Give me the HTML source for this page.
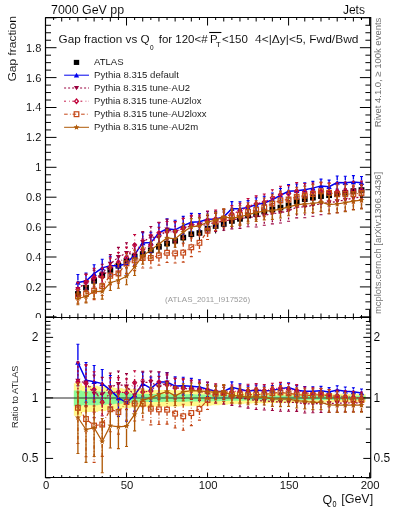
<!DOCTYPE html>
<html><head><meta charset="utf-8"><style>html,body{margin:0;padding:0;background:#fff;width:393px;height:512px;overflow:hidden}svg{display:block;will-change:transform} text{stroke:#fff;stroke-width:0.07px}</style></head>
<body><svg width="393" height="512" viewBox="0 0 393 512">
<rect width="393" height="512" fill="#fff"/>
<defs><clipPath id="ct"><rect x="45.5" y="17.5" width="325.4" height="300"/></clipPath><clipPath id="cb"><rect x="45.5" y="317.5" width="325.4" height="160"/></clipPath></defs>
<text x="51.1" y="13.8" font-size="12" font-family="'Liberation Sans', sans-serif" textLength="73" lengthAdjust="spacingAndGlyphs">7000 GeV pp</text>
<text x="364.9" y="13.8" font-size="12" font-family="'Liberation Sans', sans-serif" text-anchor="end">Jets</text>
<text transform="translate(15.6 81.6) rotate(-90)" font-size="11" font-family="'Liberation Sans', sans-serif" textLength="65.5" lengthAdjust="spacingAndGlyphs">Gap fraction</text>
<text x="41.3" y="290.8" font-size="11.1" font-family="'Liberation Sans', sans-serif" text-anchor="end">0.2</text>
<text x="41.3" y="260.9" font-size="11.1" font-family="'Liberation Sans', sans-serif" text-anchor="end">0.4</text>
<text x="41.3" y="231" font-size="11.1" font-family="'Liberation Sans', sans-serif" text-anchor="end">0.6</text>
<text x="41.3" y="201.1" font-size="11.1" font-family="'Liberation Sans', sans-serif" text-anchor="end">0.8</text>
<text x="41.3" y="171.2" font-size="11.1" font-family="'Liberation Sans', sans-serif" text-anchor="end">1</text>
<text x="41.3" y="141.3" font-size="11.1" font-family="'Liberation Sans', sans-serif" text-anchor="end">1.2</text>
<text x="41.3" y="111.4" font-size="11.1" font-family="'Liberation Sans', sans-serif" text-anchor="end">1.4</text>
<text x="41.3" y="81.5" font-size="11.1" font-family="'Liberation Sans', sans-serif" text-anchor="end">1.6</text>
<text x="41.3" y="51.6" font-size="11.1" font-family="'Liberation Sans', sans-serif" text-anchor="end">1.8</text>
<text x="58.6" y="43" font-size="11.5" font-family="'Liberation Sans', sans-serif" textLength="91" lengthAdjust="spacingAndGlyphs">Gap fraction vs Q</text>
<text x="150" y="49.7" font-size="7.8" font-family="'Liberation Sans', sans-serif" style="stroke:none" textLength="3.6" lengthAdjust="spacingAndGlyphs">0</text>
<text x="158.7" y="43" font-size="11.5" font-family="'Liberation Sans', sans-serif">for 120&lt;#</text>
<text x="210" y="43" font-size="11.5" font-family="'Liberation Sans', sans-serif">P</text>
<path d="M209.2 32.5H221.4" stroke="#000" stroke-width="1.1"/>
<text x="216.1" y="47" font-size="7.6" font-family="'Liberation Sans', sans-serif" style="stroke:none">T</text>
<text x="222" y="43" font-size="11.5" font-family="'Liberation Sans', sans-serif">&lt;150</text>
<text x="255" y="43" font-size="11.5" font-family="'Liberation Sans', sans-serif" textLength="103.5" lengthAdjust="spacingAndGlyphs">4&lt;|Δy|&lt;5, Fwd/Bwd</text>
<text transform="translate(380.6 127.2) rotate(-90)" font-size="9.4" font-family="'Liberation Sans', sans-serif" fill="#707070" style="stroke:none" textLength="109.5" lengthAdjust="spacingAndGlyphs">Rivet 4.1.0, ≥ 100k events</text>
<text transform="translate(381.2 314) rotate(-90)" font-size="9.4" font-family="'Liberation Sans', sans-serif" fill="#707070" style="stroke:none" textLength="142" lengthAdjust="spacingAndGlyphs">mcplots.cern.ch [arXiv:1306.3436]</text>
<text x="165.1" y="302.4" font-size="7.6" font-family="'Liberation Sans', sans-serif" fill="#9a9a9a" style="stroke:none" textLength="85" lengthAdjust="spacingAndGlyphs">(ATLAS_2011_I917526)</text>
<text x="41.3" y="320.7" font-size="11.1" font-family="'Liberation Sans', sans-serif" text-anchor="end">0</text>
<text x="94.1" y="65" font-size="9.3" font-family="'Liberation Sans', sans-serif" textLength="29.5" lengthAdjust="spacingAndGlyphs">ATLAS</text>
<text x="94.1" y="77.8" font-size="9.3" font-family="'Liberation Sans', sans-serif" textLength="84.8" lengthAdjust="spacingAndGlyphs">Pythia 8.315 default</text>
<text x="94.1" y="90.6" font-size="9.3" font-family="'Liberation Sans', sans-serif" textLength="96" lengthAdjust="spacingAndGlyphs">Pythia 8.315 tune-AU2</text>
<text x="94.1" y="103.8" font-size="9.3" font-family="'Liberation Sans', sans-serif" textLength="107.3" lengthAdjust="spacingAndGlyphs">Pythia 8.315 tune-AU2lox</text>
<text x="94.1" y="116.8" font-size="9.3" font-family="'Liberation Sans', sans-serif" textLength="112.5" lengthAdjust="spacingAndGlyphs">Pythia 8.315 tune-AU2loxx</text>
<text x="94.1" y="129.9" font-size="9.3" font-family="'Liberation Sans', sans-serif" textLength="104" lengthAdjust="spacingAndGlyphs">Pythia 8.315 tune-AU2m</text>
<rect x="73.8" y="59.85" width="5.4" height="5.1" fill="#000"/>
<path d="M64.1 75.2H89.0" stroke="#0000ee" stroke-width="1" fill="none"/>
<path d="M76.5 72.7L79.2 77.5L73.8 77.5Z" fill="#0000ee"/>
<path d="M64.1 88.0H89.0" stroke="#9a003e" stroke-width="1" fill="none" stroke-dasharray="2,2"/>
<path d="M76.5 90.3L79.1 85.9L73.9 85.9Z" fill="#9a003e"/>
<path d="M64.1 101.2H89.0" stroke="#c0063c" stroke-width="1" fill="none" stroke-dasharray="1.8,3.3,0.7,2.4"/>
<path d="M76.5 99L78.4 101.2L76.5 103.4L74.6 101.2Z" fill="none" stroke="#c0063c" stroke-width="1.3"/>
<path d="M64.1 114.2H89.0" stroke="#c44616" stroke-width="1" fill="none" stroke-dasharray="3.6,2.2,0.8,1.9"/>
<rect x="74.2" y="111.8" width="4.6" height="4.8" fill="none" stroke="#c44616" stroke-width="1.2"/>
<path d="M64.1 127.3H89.0" stroke="#b05a08" stroke-width="1" fill="none"/>
<path d="M76.5 124.2L77.29 126.21L79.45 126.34L77.78 127.72L78.32 129.81L76.5 128.65L74.68 129.81L75.22 127.72L73.55 126.34L75.71 126.21Z" fill="#b05a08"/>
<g clip-path="url(#ct)">
<path d="M77.91 289.72V298.14M86.01 283.27V292.02M94.12 275.54V286.3M102.22 269.42V281.06M110.32 263.92V276.09M118.42 259.7V271.94M126.53 254.48V267M134.63 250.33V262.78M142.73 247.79V260.23M150.83 243.78V256.76M158.94 240.11V253.56M167.04 236.62V250.47M175.14 233.79V247.92M183.24 230.31V244.82M191.34 226.68V241.57M199.45 225.51V240.35M207.55 220.92V236.27M215.65 218.63V233.48M223.75 216.85V231.07M231.86 214.13V227.81M239.96 212.39V225.36M248.06 209.41V221.77M256.17 208.01V220.18M264.27 205.42V217.69M272.37 203.3V215.62M280.47 201.35V213.68M288.58 199.24V211.6M296.68 195.09V207.68M304.78 192.84V205.45M312.88 191.37V203.92M320.99 189.91V202.39M329.09 189.09V201.43M337.19 188.1V200.32M345.29 186.65V198.78M353.39 185.04V197.1M361.5 184.07V195.98" stroke="#000" stroke-width="1"/>
<rect x="75.01" y="291.13" width="5.8" height="5.6" fill="#000"/><rect x="83.11" y="284.85" width="5.8" height="5.6" fill="#000"/><rect x="91.22" y="278.12" width="5.8" height="5.6" fill="#000"/><rect x="99.32" y="272.44" width="5.8" height="5.6" fill="#000"/><rect x="107.42" y="267.21" width="5.8" height="5.6" fill="#000"/><rect x="115.52" y="263.02" width="5.8" height="5.6" fill="#000"/><rect x="123.62" y="257.94" width="5.8" height="5.6" fill="#000"/><rect x="131.73" y="253.75" width="5.8" height="5.6" fill="#000"/><rect x="139.83" y="251.21" width="5.8" height="5.6" fill="#000"/><rect x="147.93" y="247.47" width="5.8" height="5.6" fill="#000"/><rect x="156.03" y="244.03" width="5.8" height="5.6" fill="#000"/><rect x="164.14" y="240.75" width="5.8" height="5.6" fill="#000"/><rect x="172.24" y="238.05" width="5.8" height="5.6" fill="#000"/><rect x="180.34" y="234.76" width="5.8" height="5.6" fill="#000"/><rect x="188.44" y="231.33" width="5.8" height="5.6" fill="#000"/><rect x="196.55" y="230.13" width="5.8" height="5.6" fill="#000"/><rect x="204.65" y="225.8" width="5.8" height="5.6" fill="#000"/><rect x="212.75" y="223.25" width="5.8" height="5.6" fill="#000"/><rect x="220.85" y="221.16" width="5.8" height="5.6" fill="#000"/><rect x="228.96" y="218.17" width="5.8" height="5.6" fill="#000"/><rect x="237.06" y="216.08" width="5.8" height="5.6" fill="#000"/><rect x="245.16" y="212.79" width="5.8" height="5.6" fill="#000"/><rect x="253.27" y="211.29" width="5.8" height="5.6" fill="#000"/><rect x="261.37" y="208.75" width="5.8" height="5.6" fill="#000"/><rect x="269.47" y="206.66" width="5.8" height="5.6" fill="#000"/><rect x="277.57" y="204.72" width="5.8" height="5.6" fill="#000"/><rect x="285.68" y="202.62" width="5.8" height="5.6" fill="#000"/><rect x="293.78" y="198.59" width="5.8" height="5.6" fill="#000"/><rect x="301.88" y="196.34" width="5.8" height="5.6" fill="#000"/><rect x="309.98" y="194.85" width="5.8" height="5.6" fill="#000"/><rect x="318.09" y="193.35" width="5.8" height="5.6" fill="#000"/><rect x="326.19" y="192.46" width="5.8" height="5.6" fill="#000"/><rect x="334.29" y="191.41" width="5.8" height="5.6" fill="#000"/><rect x="342.39" y="189.92" width="5.8" height="5.6" fill="#000"/><rect x="350.5" y="188.27" width="5.8" height="5.6" fill="#000"/><rect x="358.6" y="187.22" width="5.8" height="5.6" fill="#000"/>
<path d="M77.91 274.48V279.89M77.91 285.09V290.5M86.01 273.07V278.46M86.01 283.66V289.05M94.12 264.77V271.04M94.12 276.24V282.5M102.22 259.24V265.24M102.22 270.44V276.44M110.32 256.3V263.05M110.32 268.25V275.01M118.42 256.08V263.22M118.42 268.42V275.56M126.53 253.51V261.11M126.53 266.31V273.91M134.63 244.14V251.96M134.63 257.16V264.99M142.73 232.6V240.3M142.73 245.5V253.19M150.83 232.31V240.02M150.83 245.22V252.93M158.94 222.63V230.24M158.94 235.44V243.06M167.04 218.89V226.29M167.04 231.49V238.9M175.14 220.19V227.24M175.14 232.44V239.5M183.24 216.35V223.08M183.24 228.28V235.01M191.34 213.35V219.7M191.34 224.9V231.26M199.45 213.48V219.18M199.45 224.38V230.07M207.55 211.45V216.73M207.55 221.93V227.22M215.65 211.62V216.28M215.65 221.48V226.14M223.75 209.76V214.3M223.75 219.5V224.05M231.86 201.61V206.1M231.86 211.3V215.8M239.96 201.74V206.09M239.96 211.29V215.65M248.06 200.61V204.89M248.06 210.09V214.37M256.17 197.76V201.84M256.17 207.04V211.12M264.27 196.2V200.32M264.27 205.52V209.64M272.37 193.07V197.2M272.37 202.4V206.53M280.47 188.55V192.68M280.47 197.88V202M288.58 184.55V188.68M288.58 193.88V198M296.68 183.93V188.17M296.68 193.37V197.6M304.78 182.9V187.13M304.78 192.33V196.56M312.88 181.33V185.52M312.88 190.72V194.9M320.99 179.17V183.3M320.99 188.5V192.63M329.09 180.11V184.15M329.09 189.35V193.39M337.19 176.01V179.96M337.19 185.16V189.12M345.29 176.3V180.19M345.29 185.39V189.28M353.39 175.59V179.42M353.39 184.62V188.45M361.5 176.46V180.2M361.5 185.4V189.14" stroke="#0000ee" stroke-width="1.35" fill="none"/>
<path d="M76.41 274.48H79.41M76.41 290.5H79.41M84.51 273.07H87.51M84.51 289.05H87.51M92.62 264.77H95.62M92.62 282.5H95.62M100.72 259.24H103.72M100.72 276.44H103.72M108.82 256.3H111.82M108.82 275.01H111.82M116.92 256.08H119.92M116.92 275.56H119.92M125.03 253.51H128.03M125.03 273.91H128.03M133.13 244.14H136.13M133.13 264.99H136.13M141.23 232.6H144.23M141.23 253.19H144.23M149.33 232.31H152.33M149.33 252.93H152.33M157.44 222.63H160.44M157.44 243.06H160.44M165.54 218.89H168.54M165.54 238.9H168.54M173.64 220.19H176.64M173.64 239.5H176.64M181.74 216.35H184.74M181.74 235.01H184.74M189.84 213.35H192.84M189.84 231.26H192.84M197.95 213.48H200.95M197.95 230.07H200.95M206.05 211.45H209.05M206.05 227.22H209.05M214.15 211.62H217.15M214.15 226.14H217.15M222.25 209.76H225.25M222.25 224.05H225.25M230.36 201.61H233.36M230.36 215.8H233.36M238.46 201.74H241.46M238.46 215.65H241.46M246.56 200.61H249.56M246.56 214.37H249.56M254.67 197.76H257.67M254.67 211.12H257.67M262.77 196.2H265.77M262.77 209.64H265.77M270.87 193.07H273.87M270.87 206.53H273.87M278.97 188.55H281.97M278.97 202H281.97M287.08 184.55H290.08M287.08 198H290.08M295.18 183.93H298.18M295.18 197.6H298.18M303.28 182.9H306.28M303.28 196.56H306.28M311.38 181.33H314.38M311.38 194.9H314.38M319.49 179.17H322.49M319.49 192.63H322.49M327.59 180.11H330.59M327.59 193.39H330.59M335.69 176.01H338.69M335.69 189.12H338.69M343.79 176.3H346.79M343.79 189.28H346.79M351.89 175.59H354.89M351.89 188.45H354.89M360 176.46H363M360 189.14H363" stroke="#0000ee" stroke-width="1.1" fill="none"/>
<path d="M77.91 282.49L86.01 281.06L94.12 273.64L102.22 267.84L110.32 265.65L118.42 265.82L126.53 263.71L134.63 254.56L142.73 242.9L150.83 242.62L158.94 232.84L167.04 228.89L175.14 229.84L183.24 225.68L191.34 222.3L199.45 221.78L207.55 219.33L215.65 218.88L223.75 216.9L231.86 208.7L239.96 208.69L248.06 207.49L256.17 204.44L264.27 202.92L272.37 199.8L280.47 195.28L288.58 191.28L296.68 190.77L304.78 189.73L312.88 188.12L320.99 185.9L329.09 186.75L337.19 182.56L345.29 182.79L353.39 182.02L361.5 182.8" stroke="#0000ee" stroke-width="1.5" fill="none"/>
<path d="M77.91 279.99L80.61 284.79L75.21 284.79Z" fill="#0000ee"/><path d="M86.01 278.56L88.71 283.36L83.31 283.36Z" fill="#0000ee"/><path d="M94.12 271.14L96.82 275.94L91.42 275.94Z" fill="#0000ee"/><path d="M102.22 265.34L104.92 270.14L99.52 270.14Z" fill="#0000ee"/><path d="M110.32 263.15L113.02 267.95L107.62 267.95Z" fill="#0000ee"/><path d="M118.42 263.32L121.12 268.12L115.72 268.12Z" fill="#0000ee"/><path d="M126.53 261.21L129.22 266.01L123.83 266.01Z" fill="#0000ee"/><path d="M134.63 252.06L137.33 256.86L131.93 256.86Z" fill="#0000ee"/><path d="M142.73 240.4L145.43 245.2L140.03 245.2Z" fill="#0000ee"/><path d="M150.83 240.12L153.53 244.92L148.13 244.92Z" fill="#0000ee"/><path d="M158.94 230.34L161.63 235.14L156.24 235.14Z" fill="#0000ee"/><path d="M167.04 226.39L169.74 231.19L164.34 231.19Z" fill="#0000ee"/><path d="M175.14 227.34L177.84 232.14L172.44 232.14Z" fill="#0000ee"/><path d="M183.24 223.18L185.94 227.98L180.54 227.98Z" fill="#0000ee"/><path d="M191.34 219.8L194.04 224.6L188.65 224.6Z" fill="#0000ee"/><path d="M199.45 219.28L202.15 224.08L196.75 224.08Z" fill="#0000ee"/><path d="M207.55 216.83L210.25 221.63L204.85 221.63Z" fill="#0000ee"/><path d="M215.65 216.38L218.35 221.18L212.95 221.18Z" fill="#0000ee"/><path d="M223.75 214.4L226.45 219.2L221.06 219.2Z" fill="#0000ee"/><path d="M231.86 206.2L234.56 211L229.16 211Z" fill="#0000ee"/><path d="M239.96 206.19L242.66 210.99L237.26 210.99Z" fill="#0000ee"/><path d="M248.06 204.99L250.76 209.79L245.36 209.79Z" fill="#0000ee"/><path d="M256.17 201.94L258.87 206.74L253.47 206.74Z" fill="#0000ee"/><path d="M264.27 200.42L266.97 205.22L261.57 205.22Z" fill="#0000ee"/><path d="M272.37 197.3L275.07 202.1L269.67 202.1Z" fill="#0000ee"/><path d="M280.47 192.78L283.17 197.58L277.77 197.58Z" fill="#0000ee"/><path d="M288.58 188.78L291.28 193.58L285.88 193.58Z" fill="#0000ee"/><path d="M296.68 188.27L299.38 193.07L293.98 193.07Z" fill="#0000ee"/><path d="M304.78 187.23L307.48 192.03L302.08 192.03Z" fill="#0000ee"/><path d="M312.88 185.62L315.58 190.42L310.18 190.42Z" fill="#0000ee"/><path d="M320.99 183.4L323.69 188.2L318.29 188.2Z" fill="#0000ee"/><path d="M329.09 184.25L331.79 189.05L326.39 189.05Z" fill="#0000ee"/><path d="M337.19 180.06L339.89 184.86L334.49 184.86Z" fill="#0000ee"/><path d="M345.29 180.29L347.99 185.09L342.59 185.09Z" fill="#0000ee"/><path d="M353.39 179.52L356.09 184.32L350.69 184.32Z" fill="#0000ee"/><path d="M361.5 180.3L364.2 185.1L358.8 185.1Z" fill="#0000ee"/>
<path d="M77.91 282.17V286.43M77.91 291.63V295.89M86.01 274.09V279.51M86.01 284.71V290.13M94.12 270.23V276.6M94.12 281.8V288.17M102.22 264.23V270.98M102.22 276.18V282.93M110.32 254.56V261.32M110.32 266.52V273.28M118.42 247.38V254.55M118.42 259.75V266.93M126.53 242.72V250.4M126.53 255.6V263.28M134.63 244.32V252.26M134.63 257.46V265.41M142.73 231.61V239.48M142.73 244.68V252.54M150.83 226.43V234.37M150.83 239.57V247.5M158.94 227.24V235.14M158.94 240.34V248.23M167.04 219.25V227.03M167.04 232.23V240M175.14 221.61V229.14M175.14 234.34V241.87M183.24 218.15V225.46M183.24 230.66V237.96M191.34 216.21V223.26M191.34 228.46V235.5M199.45 217.14V223.62M199.45 228.82V235.31M207.55 215.36V221.58M207.55 226.78V233.01M215.65 213.42V219.82M215.65 225.02V231.42M223.75 212.05V218.58M223.75 223.78V230.3M231.86 210.19V216.93M231.86 222.13V228.88M239.96 209.41V216.28M239.96 221.48V228.34M248.06 207.41V214.51M248.06 219.71V226.81M256.17 207.42V214.57M256.17 219.77V226.93M264.27 205.28V212.64M264.27 217.84V225.19M272.37 203.64V211.15M272.37 216.35V223.87M280.47 202.51V210.16M280.47 215.36V223.02M288.58 200.47V208.28M288.58 213.48V221.29M296.68 196.41V204.56M296.68 209.76V217.9M304.78 196V204.31M304.78 209.51V217.81M312.88 194.31V202.71M312.88 207.91V216.31M320.99 192.61V201.1M320.99 206.3V214.79M329.09 191.53V200.05M329.09 205.25V213.78M337.19 190.29V198.86M337.19 204.06V212.63M345.29 188.58V197.24M345.29 202.44V211.1M353.39 186.71V195.48M353.39 200.68V209.44M361.5 185.46V194.27M361.5 199.47V208.28" stroke="#9a003e" stroke-width="1.35" fill="none" stroke-dasharray="2,2"/>
<path d="M76.41 282.17H79.41M76.41 295.89H79.41M84.51 274.09H87.51M84.51 290.13H87.51M92.62 270.23H95.62M92.62 288.17H95.62M100.72 264.23H103.72M100.72 282.93H103.72M108.82 254.56H111.82M108.82 273.28H111.82M116.92 247.38H119.92M116.92 266.93H119.92M125.03 242.72H128.03M125.03 263.28H128.03M133.13 244.32H136.13M133.13 265.41H136.13M141.23 231.61H144.23M141.23 252.54H144.23M149.33 226.43H152.33M149.33 247.5H152.33M157.44 227.24H160.44M157.44 248.23H160.44M165.54 219.25H168.54M165.54 240H168.54M173.64 221.61H176.64M173.64 241.87H176.64M181.74 218.15H184.74M181.74 237.96H184.74M189.84 216.21H192.84M189.84 235.5H192.84M197.95 217.14H200.95M197.95 235.31H200.95M206.05 215.36H209.05M206.05 233.01H209.05M214.15 213.42H217.15M214.15 231.42H217.15M222.25 212.05H225.25M222.25 230.3H225.25M230.36 210.19H233.36M230.36 228.88H233.36M238.46 209.41H241.46M238.46 228.34H241.46M246.56 207.41H249.56M246.56 226.81H249.56M254.67 207.42H257.67M254.67 226.93H257.67M262.77 205.28H265.77M262.77 225.19H265.77M270.87 203.64H273.87M270.87 223.87H273.87M278.97 202.51H281.97M278.97 223.02H281.97M287.08 200.47H290.08M287.08 221.29H290.08M295.18 196.41H298.18M295.18 217.9H298.18M303.28 196H306.28M303.28 217.81H306.28M311.38 194.31H314.38M311.38 216.31H314.38M319.49 192.61H322.49M319.49 214.79H322.49M327.59 191.53H330.59M327.59 213.78H330.59M335.69 190.29H338.69M335.69 212.63H338.69M343.79 188.58H346.79M343.79 211.1H346.79M351.89 186.71H354.89M351.89 209.44H354.89M360 185.46H363M360 208.28H363" stroke="#9a003e" stroke-width="1.1" fill="none"/>
<path d="M77.91 289.03L86.01 282.11L94.12 279.2L102.22 273.58L110.32 263.92L118.42 257.15L126.53 253L134.63 254.86L142.73 242.08L150.83 236.97L158.94 237.74L167.04 229.63L175.14 231.74L183.24 228.06L191.34 225.86L199.45 226.22L207.55 224.18L215.65 222.42L223.75 221.18L231.86 219.53L239.96 218.88L248.06 217.11L256.17 217.17L264.27 215.24L272.37 213.75L280.47 212.76L288.58 210.88L296.68 207.16L304.78 206.91L312.88 205.31L320.99 203.7L329.09 202.65L337.19 201.46L345.29 199.84L353.39 198.08L361.5 196.87" stroke="#9a003e" stroke-width="1.2" fill="none" stroke-dasharray="2,2"/>
<path d="M77.91 291.33L80.51 286.93L75.31 286.93Z" fill="#9a003e"/><path d="M86.01 284.41L88.61 280.01L83.41 280.01Z" fill="#9a003e"/><path d="M94.12 281.5L96.72 277.1L91.52 277.1Z" fill="#9a003e"/><path d="M102.22 275.88L104.82 271.48L99.62 271.48Z" fill="#9a003e"/><path d="M110.32 266.22L112.92 261.82L107.72 261.82Z" fill="#9a003e"/><path d="M118.42 259.45L121.02 255.05L115.82 255.05Z" fill="#9a003e"/><path d="M126.53 255.3L129.12 250.9L123.93 250.9Z" fill="#9a003e"/><path d="M134.63 257.16L137.23 252.76L132.03 252.76Z" fill="#9a003e"/><path d="M142.73 244.38L145.33 239.98L140.13 239.98Z" fill="#9a003e"/><path d="M150.83 239.27L153.43 234.87L148.23 234.87Z" fill="#9a003e"/><path d="M158.94 240.04L161.53 235.64L156.34 235.64Z" fill="#9a003e"/><path d="M167.04 231.93L169.64 227.53L164.44 227.53Z" fill="#9a003e"/><path d="M175.14 234.04L177.74 229.64L172.54 229.64Z" fill="#9a003e"/><path d="M183.24 230.36L185.84 225.96L180.64 225.96Z" fill="#9a003e"/><path d="M191.34 228.16L193.94 223.76L188.75 223.76Z" fill="#9a003e"/><path d="M199.45 228.52L202.05 224.12L196.85 224.12Z" fill="#9a003e"/><path d="M207.55 226.48L210.15 222.08L204.95 222.08Z" fill="#9a003e"/><path d="M215.65 224.72L218.25 220.32L213.05 220.32Z" fill="#9a003e"/><path d="M223.75 223.48L226.35 219.08L221.16 219.08Z" fill="#9a003e"/><path d="M231.86 221.83L234.46 217.43L229.26 217.43Z" fill="#9a003e"/><path d="M239.96 221.18L242.56 216.78L237.36 216.78Z" fill="#9a003e"/><path d="M248.06 219.41L250.66 215.01L245.46 215.01Z" fill="#9a003e"/><path d="M256.17 219.47L258.77 215.07L253.57 215.07Z" fill="#9a003e"/><path d="M264.27 217.54L266.87 213.14L261.67 213.14Z" fill="#9a003e"/><path d="M272.37 216.05L274.97 211.65L269.77 211.65Z" fill="#9a003e"/><path d="M280.47 215.06L283.07 210.66L277.87 210.66Z" fill="#9a003e"/><path d="M288.58 213.18L291.18 208.78L285.98 208.78Z" fill="#9a003e"/><path d="M296.68 209.46L299.28 205.06L294.08 205.06Z" fill="#9a003e"/><path d="M304.78 209.21L307.38 204.81L302.18 204.81Z" fill="#9a003e"/><path d="M312.88 207.61L315.48 203.21L310.28 203.21Z" fill="#9a003e"/><path d="M320.99 206L323.59 201.6L318.38 201.6Z" fill="#9a003e"/><path d="M329.09 204.95L331.69 200.55L326.49 200.55Z" fill="#9a003e"/><path d="M337.19 203.76L339.79 199.36L334.59 199.36Z" fill="#9a003e"/><path d="M345.29 202.14L347.89 197.74L342.69 197.74Z" fill="#9a003e"/><path d="M353.39 200.38L356 195.98L350.79 195.98Z" fill="#9a003e"/><path d="M361.5 199.17L364.1 194.77L358.9 194.77Z" fill="#9a003e"/>
<path d="M77.91 282.49V286.75M77.91 291.95V296.21M86.01 274.38V279.8M86.01 285V290.42M94.12 268.36V274.73M94.12 279.93V286.3M102.22 267.88V274.63M102.22 279.83V286.59M110.32 257.84V264.6M110.32 269.8V276.56M118.42 252.48V259.65M118.42 264.85V272.02M126.53 247.1V254.77M126.53 259.97V267.65M134.63 234.56V242.5M134.63 247.7V255.65M142.73 239.15V247.01M142.73 252.21V260.08M150.83 234.42V242.35M150.83 247.55V255.48M158.94 222.35V230.24M158.94 235.44V243.34M167.04 221.45V229.22M167.04 234.42V242.2M175.14 221.61V229.14M175.14 234.34V241.87M183.24 218.55V225.85M183.24 231.05V238.36M191.34 215.39V222.43M191.34 227.63V234.68M199.45 215.04V221.52M199.45 226.72V233.21M207.55 210.95V217.17M207.55 222.37V228.6M215.65 210.17V216.19M215.65 221.39V227.41M223.75 209.11V214.86M223.75 220.06V225.82M231.86 205.64V211.18M231.86 216.38V221.93M239.96 203.21V208.44M239.96 213.64V218.88M248.06 198.51V203.88M248.06 209.08V214.45M256.17 195.86V201.22M256.17 206.42V211.78M264.27 194.05V199.48M264.27 204.68V210.1M272.37 189.82V195.27M272.37 200.47V205.92M280.47 186.25V191.8M280.47 197V202.55M288.58 185.48V191.13M288.58 196.33V201.98M296.68 182.5V188.4M296.68 193.6V199.5M304.78 183.47V189.48M304.78 194.68V200.69M312.88 183.03V189.09M312.88 194.29V200.36M320.99 182.61V188.73M320.99 193.93V200.05M329.09 182.88V189.01M329.09 194.21V200.34M337.19 182.7V188.85M337.19 194.05V200.2M345.29 182.05V188.25M345.29 193.45V199.65M353.39 181.27V187.53M353.39 192.73V198.99M361.5 181.15V187.42M361.5 192.62V198.9" stroke="#c0063c" stroke-width="1.35" fill="none" stroke-dasharray="1.8,3.3,0.7,2.4"/>
<path d="M76.41 282.49H79.41M76.41 296.21H79.41M84.51 274.38H87.51M84.51 290.42H87.51M92.62 268.36H95.62M92.62 286.3H95.62M100.72 267.88H103.72M100.72 286.59H103.72M108.82 257.84H111.82M108.82 276.56H111.82M116.92 252.48H119.92M116.92 272.02H119.92M125.03 247.1H128.03M125.03 267.65H128.03M133.13 234.56H136.13M133.13 255.65H136.13M141.23 239.15H144.23M141.23 260.08H144.23M149.33 234.42H152.33M149.33 255.48H152.33M157.44 222.35H160.44M157.44 243.34H160.44M165.54 221.45H168.54M165.54 242.2H168.54M173.64 221.61H176.64M173.64 241.87H176.64M181.74 218.55H184.74M181.74 238.36H184.74M189.84 215.39H192.84M189.84 234.68H192.84M197.95 215.04H200.95M197.95 233.21H200.95M206.05 210.95H209.05M206.05 228.6H209.05M214.15 210.17H217.15M214.15 227.41H217.15M222.25 209.11H225.25M222.25 225.82H225.25M230.36 205.64H233.36M230.36 221.93H233.36M238.46 203.21H241.46M238.46 218.88H241.46M246.56 198.51H249.56M246.56 214.45H249.56M254.67 195.86H257.67M254.67 211.78H257.67M262.77 194.05H265.77M262.77 210.1H265.77M270.87 189.82H273.87M270.87 205.92H273.87M278.97 186.25H281.97M278.97 202.55H281.97M287.08 185.48H290.08M287.08 201.98H290.08M295.18 182.5H298.18M295.18 199.5H298.18M303.28 183.47H306.28M303.28 200.69H306.28M311.38 183.03H314.38M311.38 200.36H314.38M319.49 182.61H322.49M319.49 200.05H322.49M327.59 182.88H330.59M327.59 200.34H330.59M335.69 182.7H338.69M335.69 200.2H338.69M343.79 182.05H346.79M343.79 199.65H346.79M351.89 181.27H354.89M351.89 198.99H354.89M360 181.15H363M360 198.9H363" stroke="#c0063c" stroke-width="1.1" fill="none"/>
<path d="M77.91 289.35L86.01 282.4L94.12 277.33L102.22 277.23L110.32 267.2L118.42 262.25L126.53 257.37L134.63 245.1L142.73 249.61L150.83 244.95L158.94 232.84L167.04 231.82L175.14 231.74L183.24 228.45L191.34 225.03L199.45 224.12L207.55 219.77L215.65 218.79L223.75 217.46L231.86 213.78L239.96 211.04L248.06 206.48L256.17 203.82L264.27 202.08L272.37 197.87L280.47 194.4L288.58 193.73L296.68 191L304.78 192.08L312.88 191.69L320.99 191.33L329.09 191.61L337.19 191.45L345.29 190.85L353.39 190.13L361.5 190.02" stroke="#c0063c" stroke-width="1.2" fill="none" stroke-dasharray="1.8,3.3,0.7,2.4"/>
<path d="M77.91 287.15L79.81 289.35L77.91 291.55L76.01 289.35Z" fill="none" stroke="#c0063c" stroke-width="1.3"/><path d="M86.01 280.2L87.91 282.4L86.01 284.6L84.11 282.4Z" fill="none" stroke="#c0063c" stroke-width="1.3"/><path d="M94.12 275.13L96.02 277.33L94.12 279.53L92.22 277.33Z" fill="none" stroke="#c0063c" stroke-width="1.3"/><path d="M102.22 275.03L104.12 277.23L102.22 279.43L100.32 277.23Z" fill="none" stroke="#c0063c" stroke-width="1.3"/><path d="M110.32 265L112.22 267.2L110.32 269.4L108.42 267.2Z" fill="none" stroke="#c0063c" stroke-width="1.3"/><path d="M118.42 260.05L120.32 262.25L118.42 264.45L116.52 262.25Z" fill="none" stroke="#c0063c" stroke-width="1.3"/><path d="M126.53 255.17L128.43 257.37L126.53 259.57L124.62 257.37Z" fill="none" stroke="#c0063c" stroke-width="1.3"/><path d="M134.63 242.9L136.53 245.1L134.63 247.3L132.73 245.1Z" fill="none" stroke="#c0063c" stroke-width="1.3"/><path d="M142.73 247.41L144.63 249.61L142.73 251.81L140.83 249.61Z" fill="none" stroke="#c0063c" stroke-width="1.3"/><path d="M150.83 242.75L152.73 244.95L150.83 247.15L148.93 244.95Z" fill="none" stroke="#c0063c" stroke-width="1.3"/><path d="M158.94 230.64L160.84 232.84L158.94 235.04L157.03 232.84Z" fill="none" stroke="#c0063c" stroke-width="1.3"/><path d="M167.04 229.62L168.94 231.82L167.04 234.02L165.14 231.82Z" fill="none" stroke="#c0063c" stroke-width="1.3"/><path d="M175.14 229.54L177.04 231.74L175.14 233.94L173.24 231.74Z" fill="none" stroke="#c0063c" stroke-width="1.3"/><path d="M183.24 226.25L185.14 228.45L183.24 230.65L181.34 228.45Z" fill="none" stroke="#c0063c" stroke-width="1.3"/><path d="M191.34 222.83L193.25 225.03L191.34 227.23L189.44 225.03Z" fill="none" stroke="#c0063c" stroke-width="1.3"/><path d="M199.45 221.92L201.35 224.12L199.45 226.32L197.55 224.12Z" fill="none" stroke="#c0063c" stroke-width="1.3"/><path d="M207.55 217.57L209.45 219.77L207.55 221.97L205.65 219.77Z" fill="none" stroke="#c0063c" stroke-width="1.3"/><path d="M215.65 216.59L217.55 218.79L215.65 220.99L213.75 218.79Z" fill="none" stroke="#c0063c" stroke-width="1.3"/><path d="M223.75 215.26L225.66 217.46L223.75 219.66L221.85 217.46Z" fill="none" stroke="#c0063c" stroke-width="1.3"/><path d="M231.86 211.58L233.76 213.78L231.86 215.98L229.96 213.78Z" fill="none" stroke="#c0063c" stroke-width="1.3"/><path d="M239.96 208.84L241.86 211.04L239.96 213.24L238.06 211.04Z" fill="none" stroke="#c0063c" stroke-width="1.3"/><path d="M248.06 204.28L249.96 206.48L248.06 208.68L246.16 206.48Z" fill="none" stroke="#c0063c" stroke-width="1.3"/><path d="M256.17 201.62L258.06 203.82L256.17 206.02L254.27 203.82Z" fill="none" stroke="#c0063c" stroke-width="1.3"/><path d="M264.27 199.88L266.17 202.08L264.27 204.28L262.37 202.08Z" fill="none" stroke="#c0063c" stroke-width="1.3"/><path d="M272.37 195.67L274.27 197.87L272.37 200.07L270.47 197.87Z" fill="none" stroke="#c0063c" stroke-width="1.3"/><path d="M280.47 192.2L282.37 194.4L280.47 196.6L278.57 194.4Z" fill="none" stroke="#c0063c" stroke-width="1.3"/><path d="M288.58 191.53L290.48 193.73L288.58 195.93L286.68 193.73Z" fill="none" stroke="#c0063c" stroke-width="1.3"/><path d="M296.68 188.8L298.58 191L296.68 193.2L294.78 191Z" fill="none" stroke="#c0063c" stroke-width="1.3"/><path d="M304.78 189.88L306.68 192.08L304.78 194.28L302.88 192.08Z" fill="none" stroke="#c0063c" stroke-width="1.3"/><path d="M312.88 189.49L314.78 191.69L312.88 193.89L310.98 191.69Z" fill="none" stroke="#c0063c" stroke-width="1.3"/><path d="M320.99 189.13L322.88 191.33L320.99 193.53L319.09 191.33Z" fill="none" stroke="#c0063c" stroke-width="1.3"/><path d="M329.09 189.41L330.99 191.61L329.09 193.81L327.19 191.61Z" fill="none" stroke="#c0063c" stroke-width="1.3"/><path d="M337.19 189.25L339.09 191.45L337.19 193.65L335.29 191.45Z" fill="none" stroke="#c0063c" stroke-width="1.3"/><path d="M345.29 188.65L347.19 190.85L345.29 193.05L343.39 190.85Z" fill="none" stroke="#c0063c" stroke-width="1.3"/><path d="M353.39 187.93L355.29 190.13L353.39 192.33L351.5 190.13Z" fill="none" stroke="#c0063c" stroke-width="1.3"/><path d="M361.5 187.82L363.4 190.02L361.5 192.22L359.6 190.02Z" fill="none" stroke="#c0063c" stroke-width="1.3"/>
<path d="M77.91 289.51V293.77M77.91 298.97V303.24M86.01 285.9V291.32M86.01 296.52V301.93M94.12 281.71V288.08M94.12 293.28V299.65M102.22 276.82V283.57M102.22 288.77V295.52M110.32 266.36V273.12M110.32 278.32V285.07M118.42 263.78V270.87M118.42 276.07V283.15M126.53 253.23V260.72M126.53 265.92V273.41M134.63 250.1V257.75M134.63 262.95V270.59M142.73 247.92V255.37M142.73 260.57V268.01M150.83 248.01V255.39M150.83 260.59V267.97M158.94 245.64V252.84M158.94 258.04V265.24M167.04 243.01V250.18M167.04 255.38V262.54M175.14 243.77V250.79M175.14 255.99V263M183.24 243.11V250.02M183.24 255.22V262.13M191.34 237.9V244.67M191.34 249.87V256.64M199.45 233.88V240.23M199.45 245.43V251.77M207.55 221.89V228.11M207.55 233.31V239.53M215.65 212.68V219.01M215.65 224.21V230.53M223.75 209.79V216.16M223.75 221.36V227.74M231.86 208.03V214.54M231.86 219.74V226.24M239.96 205.82V212.36M239.96 217.56V224.1M248.06 202.77V209.45M248.06 214.65V221.32M256.17 200.74V207.39M256.17 212.59V219.23M264.27 198.03V204.74M264.27 209.94V216.65M272.37 194.22V200.96M272.37 206.16V212.89M280.47 191.08V197.81M280.47 203.01V209.74M288.58 190.18V196.92M288.58 202.12V208.86M296.68 187.27V194.17M296.68 199.37V206.27M304.78 186.11V193.01M304.78 198.21V205.12M312.88 184.63V191.47M312.88 196.67V203.51M320.99 181.95V188.73M320.99 193.93V200.7M329.09 183.57V190.23M329.09 195.43V202.08M337.19 185.06V191.61M337.19 196.81V203.36M345.29 184.89V191.36M345.29 196.56V203.02M353.39 185.09V191.49M353.39 196.69V203.08M361.5 184.19V190.47M361.5 195.67V201.94" stroke="#c44616" stroke-width="1.35" fill="none" stroke-dasharray="3.6,2.2,0.8,1.9"/>
<path d="M76.41 289.51H79.41M76.41 303.24H79.41M84.51 285.9H87.51M84.51 301.93H87.51M92.62 281.71H95.62M92.62 299.65H95.62M100.72 276.82H103.72M100.72 295.52H103.72M108.82 266.36H111.82M108.82 285.07H111.82M116.92 263.78H119.92M116.92 283.15H119.92M125.03 253.23H128.03M125.03 273.41H128.03M133.13 250.1H136.13M133.13 270.59H136.13M141.23 247.92H144.23M141.23 268.01H144.23M149.33 248.01H152.33M149.33 267.97H152.33M157.44 245.64H160.44M157.44 265.24H160.44M165.54 243.01H168.54M165.54 262.54H168.54M173.64 243.77H176.64M173.64 263H176.64M181.74 243.11H184.74M181.74 262.13H184.74M189.84 237.9H192.84M189.84 256.64H192.84M197.95 233.88H200.95M197.95 251.77H200.95M206.05 221.89H209.05M206.05 239.53H209.05M214.15 212.68H217.15M214.15 230.53H217.15M222.25 209.79H225.25M222.25 227.74H225.25M230.36 208.03H233.36M230.36 226.24H233.36M238.46 205.82H241.46M238.46 224.1H241.46M246.56 202.77H249.56M246.56 221.32H249.56M254.67 200.74H257.67M254.67 219.23H257.67M262.77 198.03H265.77M262.77 216.65H265.77M270.87 194.22H273.87M270.87 212.89H273.87M278.97 191.08H281.97M278.97 209.74H281.97M287.08 190.18H290.08M287.08 208.86H290.08M295.18 187.27H298.18M295.18 206.27H298.18M303.28 186.11H306.28M303.28 205.12H306.28M311.38 184.63H314.38M311.38 203.51H314.38M319.49 181.95H322.49M319.49 200.7H322.49M327.59 183.57H330.59M327.59 202.08H330.59M335.69 185.06H338.69M335.69 203.36H338.69M343.79 184.89H346.79M343.79 203.02H346.79M351.89 185.09H354.89M351.89 203.08H354.89M360 184.19H363M360 201.94H363" stroke="#c44616" stroke-width="1.1" fill="none"/>
<path d="M77.91 296.37L86.01 293.92L94.12 290.68L102.22 286.17L110.32 275.72L118.42 273.47L126.53 263.32L134.63 260.35L142.73 257.97L150.83 257.99L158.94 255.44L167.04 252.78L175.14 253.39L183.24 252.62L191.34 247.27L199.45 242.83L207.55 230.71L215.65 221.61L223.75 218.76L231.86 217.14L239.96 214.96L248.06 212.05L256.17 209.99L264.27 207.34L272.37 203.56L280.47 200.41L288.58 199.52L296.68 196.77L304.78 195.61L312.88 194.07L320.99 191.33L329.09 192.83L337.19 194.21L345.29 193.96L353.39 194.09L361.5 193.07" stroke="#c44616" stroke-width="1.2" fill="none" stroke-dasharray="3.6,2.2,0.8,1.9"/>
<rect x="75.61" y="293.97" width="4.6" height="4.8" fill="none" stroke="#c44616" stroke-width="1.2"/><rect x="83.71" y="291.52" width="4.6" height="4.8" fill="none" stroke="#c44616" stroke-width="1.2"/><rect x="91.82" y="288.28" width="4.6" height="4.8" fill="none" stroke="#c44616" stroke-width="1.2"/><rect x="99.92" y="283.77" width="4.6" height="4.8" fill="none" stroke="#c44616" stroke-width="1.2"/><rect x="108.02" y="273.32" width="4.6" height="4.8" fill="none" stroke="#c44616" stroke-width="1.2"/><rect x="116.12" y="271.07" width="4.6" height="4.8" fill="none" stroke="#c44616" stroke-width="1.2"/><rect x="124.23" y="260.92" width="4.6" height="4.8" fill="none" stroke="#c44616" stroke-width="1.2"/><rect x="132.33" y="257.95" width="4.6" height="4.8" fill="none" stroke="#c44616" stroke-width="1.2"/><rect x="140.43" y="255.57" width="4.6" height="4.8" fill="none" stroke="#c44616" stroke-width="1.2"/><rect x="148.53" y="255.59" width="4.6" height="4.8" fill="none" stroke="#c44616" stroke-width="1.2"/><rect x="156.63" y="253.04" width="4.6" height="4.8" fill="none" stroke="#c44616" stroke-width="1.2"/><rect x="164.74" y="250.38" width="4.6" height="4.8" fill="none" stroke="#c44616" stroke-width="1.2"/><rect x="172.84" y="250.99" width="4.6" height="4.8" fill="none" stroke="#c44616" stroke-width="1.2"/><rect x="180.94" y="250.22" width="4.6" height="4.8" fill="none" stroke="#c44616" stroke-width="1.2"/><rect x="189.04" y="244.87" width="4.6" height="4.8" fill="none" stroke="#c44616" stroke-width="1.2"/><rect x="197.15" y="240.43" width="4.6" height="4.8" fill="none" stroke="#c44616" stroke-width="1.2"/><rect x="205.25" y="228.31" width="4.6" height="4.8" fill="none" stroke="#c44616" stroke-width="1.2"/><rect x="213.35" y="219.21" width="4.6" height="4.8" fill="none" stroke="#c44616" stroke-width="1.2"/><rect x="221.45" y="216.36" width="4.6" height="4.8" fill="none" stroke="#c44616" stroke-width="1.2"/><rect x="229.56" y="214.74" width="4.6" height="4.8" fill="none" stroke="#c44616" stroke-width="1.2"/><rect x="237.66" y="212.56" width="4.6" height="4.8" fill="none" stroke="#c44616" stroke-width="1.2"/><rect x="245.76" y="209.65" width="4.6" height="4.8" fill="none" stroke="#c44616" stroke-width="1.2"/><rect x="253.87" y="207.59" width="4.6" height="4.8" fill="none" stroke="#c44616" stroke-width="1.2"/><rect x="261.97" y="204.94" width="4.6" height="4.8" fill="none" stroke="#c44616" stroke-width="1.2"/><rect x="270.07" y="201.16" width="4.6" height="4.8" fill="none" stroke="#c44616" stroke-width="1.2"/><rect x="278.17" y="198.01" width="4.6" height="4.8" fill="none" stroke="#c44616" stroke-width="1.2"/><rect x="286.28" y="197.12" width="4.6" height="4.8" fill="none" stroke="#c44616" stroke-width="1.2"/><rect x="294.38" y="194.37" width="4.6" height="4.8" fill="none" stroke="#c44616" stroke-width="1.2"/><rect x="302.48" y="193.21" width="4.6" height="4.8" fill="none" stroke="#c44616" stroke-width="1.2"/><rect x="310.58" y="191.67" width="4.6" height="4.8" fill="none" stroke="#c44616" stroke-width="1.2"/><rect x="318.69" y="188.93" width="4.6" height="4.8" fill="none" stroke="#c44616" stroke-width="1.2"/><rect x="326.79" y="190.43" width="4.6" height="4.8" fill="none" stroke="#c44616" stroke-width="1.2"/><rect x="334.89" y="191.81" width="4.6" height="4.8" fill="none" stroke="#c44616" stroke-width="1.2"/><rect x="342.99" y="191.56" width="4.6" height="4.8" fill="none" stroke="#c44616" stroke-width="1.2"/><rect x="351.09" y="191.69" width="4.6" height="4.8" fill="none" stroke="#c44616" stroke-width="1.2"/><rect x="359.2" y="190.67" width="4.6" height="4.8" fill="none" stroke="#c44616" stroke-width="1.2"/>
<path d="M77.91 292.35V295.92M77.91 301.12V304.7M86.01 290.21V293.94M86.01 299.14V302.87M94.12 284.11V288.69M94.12 293.89V298.47M102.22 283.99V288.97M102.22 294.17V299.16M110.32 275.01V280.13M110.32 285.33V290.46M118.42 272.22V277.65M118.42 282.85V288.28M126.53 267.86V273.67M126.53 278.87V284.68M134.63 258.33V264.31M134.63 269.51V275.5M142.73 247.17V253.04M142.73 258.24V264.12M150.83 241.79V247.67M150.83 252.87V258.75M158.94 235.5V241.3M158.94 246.5V252.29M167.04 229.48V235.3M167.04 240.5V246.33M175.14 230.6V236.36M175.14 241.56V247.31M183.24 223.62V229.34M183.24 234.54V240.26M191.34 218.67V224.33M191.34 229.53V235.2M199.45 217.83V223.2M199.45 228.4V233.77M207.55 214.04V219.38M207.55 224.58V229.92M215.65 211.97V217.46M215.65 222.66V228.16M223.75 208.7V214.3M223.75 219.5V225.11M231.86 209.71V215.5M231.86 220.7V226.48M239.96 208.43V214.32M239.96 219.52V225.41M248.06 205.89V211.98M248.06 217.18V223.26M256.17 203.93V210.06M256.17 215.26V221.39M264.27 202.2V208.43M264.27 213.63V219.85M272.37 201.66V207.93M272.37 213.13V219.41M280.47 200.13V206.45M280.47 211.65V217.96M288.58 197.92V204.27M288.58 209.47V215.82M296.68 195.7V202.25M296.68 207.45V213.99M304.78 194.66V201.25M304.78 206.45V213.04M312.88 194.32V200.89M312.88 206.09V212.65M320.99 193.04V199.59M320.99 204.79V211.33M329.09 195.55V202.02M329.09 207.22V213.68M337.19 195.01V201.42M337.19 206.62V213.02M345.29 193.67V200.04M345.29 205.24V211.61M353.39 192.18V198.53M353.39 203.73V210.07M361.5 191.29V197.57M361.5 202.77V209.04" stroke="#b05a08" stroke-width="1.35" fill="none"/>
<path d="M76.41 292.35H79.41M76.41 304.7H79.41M84.51 290.21H87.51M84.51 302.87H87.51M92.62 284.11H95.62M92.62 298.47H95.62M100.72 283.99H103.72M100.72 299.16H103.72M108.82 275.01H111.82M108.82 290.46H111.82M116.92 272.22H119.92M116.92 288.28H119.92M125.03 267.86H128.03M125.03 284.68H128.03M133.13 258.33H136.13M133.13 275.5H136.13M141.23 247.17H144.23M141.23 264.12H144.23M149.33 241.79H152.33M149.33 258.75H152.33M157.44 235.5H160.44M157.44 252.29H160.44M165.54 229.48H168.54M165.54 246.33H168.54M173.64 230.6H176.64M173.64 247.31H176.64M181.74 223.62H184.74M181.74 240.26H184.74M189.84 218.67H192.84M189.84 235.2H192.84M197.95 217.83H200.95M197.95 233.77H200.95M206.05 214.04H209.05M206.05 229.92H209.05M214.15 211.97H217.15M214.15 228.16H217.15M222.25 208.7H225.25M222.25 225.11H225.25M230.36 209.71H233.36M230.36 226.48H233.36M238.46 208.43H241.46M238.46 225.41H241.46M246.56 205.89H249.56M246.56 223.26H249.56M254.67 203.93H257.67M254.67 221.39H257.67M262.77 202.2H265.77M262.77 219.85H265.77M270.87 201.66H273.87M270.87 219.41H273.87M278.97 200.13H281.97M278.97 217.96H281.97M287.08 197.92H290.08M287.08 215.82H290.08M295.18 195.7H298.18M295.18 213.99H298.18M303.28 194.66H306.28M303.28 213.04H306.28M311.38 194.32H314.38M311.38 212.65H314.38M319.49 193.04H322.49M319.49 211.33H322.49M327.59 195.55H330.59M327.59 213.68H330.59M335.69 195.01H338.69M335.69 213.02H338.69M343.79 193.67H346.79M343.79 211.61H346.79M351.89 192.18H354.89M351.89 210.07H354.89M360 191.29H363M360 209.04H363" stroke="#b05a08" stroke-width="1.1" fill="none"/>
<path d="M77.91 298.52L86.01 296.54L94.12 291.29L102.22 291.57L110.32 282.73L118.42 280.25L126.53 276.27L134.63 266.91L142.73 255.64L150.83 250.27L158.94 243.9L167.04 237.9L175.14 238.96L183.24 231.94L191.34 226.93L199.45 225.8L207.55 221.98L215.65 220.06L223.75 216.9L231.86 218.1L239.96 216.92L248.06 214.58L256.17 212.66L264.27 211.03L272.37 210.53L280.47 209.05L288.58 206.87L296.68 204.85L304.78 203.85L312.88 203.49L320.99 202.19L329.09 204.62L337.19 204.02L345.29 202.64L353.39 201.13L361.5 200.17" stroke="#b05a08" stroke-width="1.2" fill="none"/>
<path d="M77.91 295.42L78.7 297.43L80.86 297.57L79.19 298.94L79.73 301.03L77.91 299.87L76.09 301.03L76.63 298.94L74.96 297.57L77.12 297.43Z" fill="#b05a08"/><path d="M86.01 293.44L86.81 295.45L88.96 295.58L87.3 296.96L87.83 299.05L86.01 297.89L84.19 299.05L84.73 296.96L83.06 295.58L85.22 295.45Z" fill="#b05a08"/><path d="M94.12 288.19L94.91 290.2L97.06 290.33L95.4 291.71L95.94 293.8L94.12 292.64L92.29 293.8L92.83 291.71L91.17 290.33L93.32 290.2Z" fill="#b05a08"/><path d="M102.22 288.47L103.01 290.48L105.17 290.61L103.5 291.99L104.04 294.08L102.22 292.92L100.4 294.08L100.93 291.99L99.27 290.61L101.42 290.48Z" fill="#b05a08"/><path d="M110.32 279.63L111.11 281.64L113.27 281.78L111.6 283.15L112.14 285.24L110.32 284.08L108.5 285.24L109.04 283.15L107.37 281.78L109.53 281.64Z" fill="#b05a08"/><path d="M118.42 277.15L119.22 279.16L121.37 279.29L119.71 280.66L120.24 282.76L118.42 281.6L116.6 282.76L117.14 280.66L115.47 279.29L117.63 279.16Z" fill="#b05a08"/><path d="M126.53 273.17L127.32 275.17L129.47 275.31L127.81 276.68L128.35 278.77L126.53 277.62L124.7 278.77L125.24 276.68L123.58 275.31L125.73 275.17Z" fill="#b05a08"/><path d="M134.63 263.81L135.42 265.82L137.58 265.96L135.91 267.33L136.45 269.42L134.63 268.26L132.81 269.42L133.34 267.33L131.68 265.96L133.83 265.82Z" fill="#b05a08"/><path d="M142.73 252.54L143.52 254.55L145.68 254.68L144.01 256.06L144.55 258.15L142.73 256.99L140.91 258.15L141.45 256.06L139.78 254.68L141.94 254.55Z" fill="#b05a08"/><path d="M150.83 247.17L151.63 249.18L153.78 249.31L152.12 250.69L152.65 252.78L150.83 251.62L149.01 252.78L149.55 250.69L147.88 249.31L150.04 249.18Z" fill="#b05a08"/><path d="M158.94 240.8L159.73 242.8L161.88 242.94L160.22 244.31L160.76 246.4L158.94 245.25L157.11 246.4L157.65 244.31L155.99 242.94L158.14 242.8Z" fill="#b05a08"/><path d="M167.04 234.8L167.83 236.81L169.99 236.95L168.32 238.32L168.86 240.41L167.04 239.25L165.22 240.41L165.75 238.32L164.09 236.95L166.24 236.81Z" fill="#b05a08"/><path d="M175.14 235.86L175.93 237.86L178.09 238L176.42 239.37L176.96 241.46L175.14 240.31L173.32 241.46L173.86 239.37L172.19 238L174.35 237.86Z" fill="#b05a08"/><path d="M183.24 228.84L184.04 230.85L186.19 230.98L184.53 232.36L185.06 234.45L183.24 233.29L181.42 234.45L181.96 232.36L180.29 230.98L182.45 230.85Z" fill="#b05a08"/><path d="M191.34 223.83L192.14 225.84L194.29 225.98L192.63 227.35L193.17 229.44L191.34 228.28L189.52 229.44L190.06 227.35L188.4 225.98L190.55 225.84Z" fill="#b05a08"/><path d="M199.45 222.7L200.24 224.71L202.4 224.84L200.73 226.22L201.27 228.31L199.45 227.15L197.63 228.31L198.16 226.22L196.5 224.84L198.65 224.71Z" fill="#b05a08"/><path d="M207.55 218.88L208.34 220.89L210.5 221.02L208.83 222.4L209.37 224.49L207.55 223.33L205.73 224.49L206.27 222.4L204.6 221.02L206.76 220.89Z" fill="#b05a08"/><path d="M215.65 216.96L216.45 218.97L218.6 219.11L216.94 220.48L217.47 222.57L215.65 221.41L213.83 222.57L214.37 220.48L212.7 219.11L214.86 218.97Z" fill="#b05a08"/><path d="M223.75 213.8L224.55 215.81L226.7 215.95L225.04 217.32L225.58 219.41L223.75 218.25L221.93 219.41L222.47 217.32L220.81 215.95L222.96 215.81Z" fill="#b05a08"/><path d="M231.86 215L232.65 217L234.81 217.14L233.14 218.51L233.68 220.6L231.86 219.45L230.04 220.6L230.57 218.51L228.91 217.14L231.06 217Z" fill="#b05a08"/><path d="M239.96 213.82L240.75 215.83L242.91 215.96L241.24 217.34L241.78 219.43L239.96 218.27L238.14 219.43L238.68 217.34L237.01 215.96L239.17 215.83Z" fill="#b05a08"/><path d="M248.06 211.48L248.86 213.48L251.01 213.62L249.35 214.99L249.88 217.08L248.06 215.93L246.24 217.08L246.78 214.99L245.11 213.62L247.27 213.48Z" fill="#b05a08"/><path d="M256.17 209.56L256.96 211.56L259.11 211.7L257.45 213.07L257.99 215.16L256.17 214.01L254.34 215.16L254.88 213.07L253.22 211.7L255.37 211.56Z" fill="#b05a08"/><path d="M264.27 207.93L265.06 209.93L267.22 210.07L265.55 211.44L266.09 213.53L264.27 212.38L262.45 213.53L262.98 211.44L261.32 210.07L263.47 209.93Z" fill="#b05a08"/><path d="M272.37 207.43L273.16 209.44L275.32 209.57L273.65 210.95L274.19 213.04L272.37 211.88L270.55 213.04L271.09 210.95L269.42 209.57L271.58 209.44Z" fill="#b05a08"/><path d="M280.47 205.95L281.27 207.95L283.42 208.09L281.76 209.46L282.29 211.55L280.47 210.4L278.65 211.55L279.19 209.46L277.52 208.09L279.68 207.95Z" fill="#b05a08"/><path d="M288.58 203.77L289.37 205.78L291.52 205.91L289.86 207.29L290.4 209.38L288.58 208.22L286.75 209.38L287.29 207.29L285.63 205.91L287.78 205.78Z" fill="#b05a08"/><path d="M296.68 201.75L297.47 203.76L299.63 203.89L297.96 205.27L298.5 207.36L296.68 206.2L294.86 207.36L295.39 205.27L293.73 203.89L295.88 203.76Z" fill="#b05a08"/><path d="M304.78 200.75L305.57 202.76L307.73 202.89L306.06 204.27L306.6 206.36L304.78 205.2L302.96 206.36L303.5 204.27L301.83 202.89L303.99 202.76Z" fill="#b05a08"/><path d="M312.88 200.39L313.68 202.39L315.83 202.53L314.17 203.9L314.7 205.99L312.88 204.84L311.06 205.99L311.6 203.9L309.93 202.53L312.09 202.39Z" fill="#b05a08"/><path d="M320.99 199.09L321.78 201.09L323.93 201.23L322.27 202.6L322.81 204.69L320.99 203.54L319.16 204.69L319.7 202.6L318.04 201.23L320.19 201.09Z" fill="#b05a08"/><path d="M329.09 201.52L329.88 203.52L332.04 203.66L330.37 205.03L330.91 207.12L329.09 205.97L327.27 207.12L327.8 205.03L326.14 203.66L328.29 203.52Z" fill="#b05a08"/><path d="M337.19 200.92L337.98 202.93L340.14 203.06L338.47 204.43L339.01 206.53L337.19 205.37L335.37 206.53L335.91 204.43L334.24 203.06L336.4 202.93Z" fill="#b05a08"/><path d="M345.29 199.54L346.09 201.55L348.24 201.68L346.58 203.06L347.11 205.15L345.29 203.99L343.47 205.15L344.01 203.06L342.34 201.68L344.5 201.55Z" fill="#b05a08"/><path d="M353.39 198.03L354.19 200.04L356.34 200.17L354.68 201.55L355.22 203.64L353.39 202.48L351.57 203.64L352.11 201.55L350.45 200.17L352.6 200.04Z" fill="#b05a08"/><path d="M361.5 197.07L362.29 199.07L364.45 199.21L362.78 200.58L363.32 202.67L361.5 201.52L359.68 202.67L360.21 200.58L358.55 199.21L360.7 199.07Z" fill="#b05a08"/>
</g>
<path d="M45.5 17.5v8M45.5 317.5v-8M53.6 17.5v2.5M53.6 317.5v-2.5M61.7 17.5v4M61.7 317.5v-4M69.81 17.5v2.5M69.81 317.5v-2.5M77.91 17.5v4M77.91 317.5v-4M86.01 17.5v2.5M86.01 317.5v-2.5M94.12 17.5v4M94.12 317.5v-4M102.22 17.5v2.5M102.22 317.5v-2.5M110.32 17.5v4M110.32 317.5v-4M118.42 17.5v2.5M118.42 317.5v-2.5M126.53 17.5v8M126.53 317.5v-8M134.63 17.5v2.5M134.63 317.5v-2.5M142.73 17.5v4M142.73 317.5v-4M150.83 17.5v2.5M150.83 317.5v-2.5M158.94 17.5v4M158.94 317.5v-4M167.04 17.5v2.5M167.04 317.5v-2.5M175.14 17.5v4M175.14 317.5v-4M183.24 17.5v2.5M183.24 317.5v-2.5M191.34 17.5v4M191.34 317.5v-4M199.45 17.5v2.5M199.45 317.5v-2.5M207.55 17.5v8M207.55 317.5v-8M215.65 17.5v2.5M215.65 317.5v-2.5M223.75 17.5v4M223.75 317.5v-4M231.86 17.5v2.5M231.86 317.5v-2.5M239.96 17.5v4M239.96 317.5v-4M248.06 17.5v2.5M248.06 317.5v-2.5M256.17 17.5v4M256.17 317.5v-4M264.27 17.5v2.5M264.27 317.5v-2.5M272.37 17.5v4M272.37 317.5v-4M280.47 17.5v2.5M280.47 317.5v-2.5M288.58 17.5v8M288.58 317.5v-8M296.68 17.5v2.5M296.68 317.5v-2.5M304.78 17.5v4M304.78 317.5v-4M312.88 17.5v2.5M312.88 317.5v-2.5M320.99 17.5v4M320.99 317.5v-4M329.09 17.5v2.5M329.09 317.5v-2.5M337.19 17.5v4M337.19 317.5v-4M345.29 17.5v2.5M345.29 317.5v-2.5M353.39 17.5v4M353.39 317.5v-4M361.5 17.5v2.5M361.5 317.5v-2.5M369.6 17.5v8M369.6 317.5v-8M45.5 316.8h11M370.9 316.8h-11M45.5 309.32h5.5M370.9 309.32h-5.5M45.5 301.85h5.5M370.9 301.85h-5.5M45.5 294.38h5.5M370.9 294.38h-5.5M45.5 286.9h11M370.9 286.9h-11M45.5 279.43h5.5M370.9 279.43h-5.5M45.5 271.95h5.5M370.9 271.95h-5.5M45.5 264.48h5.5M370.9 264.48h-5.5M45.5 257h11M370.9 257h-11M45.5 249.53h5.5M370.9 249.53h-5.5M45.5 242.05h5.5M370.9 242.05h-5.5M45.5 234.57h5.5M370.9 234.57h-5.5M45.5 227.1h11M370.9 227.1h-11M45.5 219.62h5.5M370.9 219.62h-5.5M45.5 212.15h5.5M370.9 212.15h-5.5M45.5 204.68h5.5M370.9 204.68h-5.5M45.5 197.2h11M370.9 197.2h-11M45.5 189.72h5.5M370.9 189.72h-5.5M45.5 182.25h5.5M370.9 182.25h-5.5M45.5 174.78h5.5M370.9 174.78h-5.5M45.5 167.3h11M370.9 167.3h-11M45.5 159.83h5.5M370.9 159.83h-5.5M45.5 152.35h5.5M370.9 152.35h-5.5M45.5 144.88h5.5M370.9 144.88h-5.5M45.5 137.4h11M370.9 137.4h-11M45.5 129.93h5.5M370.9 129.93h-5.5M45.5 122.45h5.5M370.9 122.45h-5.5M45.5 114.97h5.5M370.9 114.97h-5.5M45.5 107.5h11M370.9 107.5h-11M45.5 100.02h5.5M370.9 100.02h-5.5M45.5 92.55h5.5M370.9 92.55h-5.5M45.5 85.08h5.5M370.9 85.08h-5.5M45.5 77.6h11M370.9 77.6h-11M45.5 70.12h5.5M370.9 70.12h-5.5M45.5 62.65h5.5M370.9 62.65h-5.5M45.5 55.18h5.5M370.9 55.18h-5.5M45.5 47.7h11M370.9 47.7h-11M45.5 40.23h5.5M370.9 40.23h-5.5M45.5 32.75h5.5M370.9 32.75h-5.5M45.5 25.27h5.5M370.9 25.27h-5.5M45.5 17.8h11M370.9 17.8h-11" stroke="#000" stroke-width="1" fill="none"/>
<rect x="0" y="318" width="393" height="194" fill="#fff"/>
<path d="M73.86 383.16L81.96 383.16L81.96 385.7L90.06 385.7L90.06 385.7L98.17 385.7L98.17 386.46L106.27 386.46L106.27 387.23L114.37 387.23L114.37 388.01L122.47 388.01L122.47 388.66L130.58 388.66L130.58 389.32L138.68 389.32L138.68 389.65L146.78 389.65L146.78 389.77L154.88 389.77L154.88 389.89L162.99 389.89L162.99 390.01L171.09 390.01L171.09 390.13L179.19 390.13L179.19 390.25L187.29 390.25L187.29 390.38L195.4 390.38L195.4 390.5L203.5 390.5L203.5 390.62L211.6 390.62L211.6 391.04L219.7 391.04L219.7 391.46L227.81 391.46L227.81 391.88L235.91 391.88L235.91 392.3L244.01 392.3L244.01 392.73L252.11 392.73L252.11 392.88L260.22 392.88L260.22 392.95L268.32 392.95L268.32 393.03L276.42 393.03L276.42 393.11L284.52 393.11L284.52 393.19L292.63 393.19L292.63 393.26L300.73 393.26L300.73 393.34L308.83 393.34L308.83 393.42L316.93 393.42L316.93 393.5L325.04 393.5L325.04 393.58L333.14 393.58L333.14 393.66L341.24 393.66L341.24 393.73L349.34 393.73L349.34 393.81L357.45 393.81L357.45 393.89L365.55 393.89L365.55 402.1L357.45 402.1L357.45 402.19L349.34 402.19L349.34 402.28L341.24 402.28L341.24 402.36L333.14 402.36L333.14 402.45L325.04 402.45L325.04 402.53L316.93 402.53L316.93 402.62L308.83 402.62L308.83 402.71L300.73 402.71L300.73 402.8L292.63 402.8L292.63 402.88L284.52 402.88L284.52 402.97L276.42 402.97L276.42 403.06L268.32 403.06L268.32 403.14L260.22 403.14L260.22 403.23L252.11 403.23L252.11 403.4L244.01 403.4L244.01 403.88L235.91 403.88L235.91 404.37L227.81 404.37L227.81 404.86L219.7 404.86L219.7 405.35L211.6 405.35L211.6 405.85L203.5 405.85L203.5 405.99L195.4 405.99L195.4 406.13L187.29 406.13L187.29 406.28L179.19 406.28L179.19 406.43L171.09 406.43L171.09 406.57L162.99 406.57L162.99 406.72L154.88 406.72L154.88 406.86L146.78 406.86L146.78 407.01L138.68 407.01L138.68 407.42L130.58 407.42L130.58 408.24L122.47 408.24L122.47 409.06L114.37 409.06L114.37 410.06L106.27 410.06L106.27 411.07L98.17 411.07L98.17 412.09L90.06 412.09L90.06 412.09L81.96 412.09L81.96 415.65L73.86 415.65Z" fill="#fff98c"/>
<path d="M73.86 390.38L81.96 390.38L81.96 391.18L90.06 391.18L90.06 391.18L98.17 391.18L98.17 391.59L106.27 391.59L106.27 391.99L114.37 391.99L114.37 392.4L122.47 392.4L122.47 393.02L130.58 393.02L130.58 393.64L138.68 393.64L138.68 393.93L146.78 393.93L146.78 394L154.88 394L154.88 394.07L162.99 394.07L162.99 394.14L171.09 394.14L171.09 394.2L179.19 394.2L179.19 394.27L187.29 394.27L187.29 394.34L195.4 394.34L195.4 394.41L203.5 394.41L203.5 394.48L211.6 394.48L211.6 394.67L219.7 394.67L219.7 394.86L227.81 394.86L227.81 395.06L235.91 395.06L235.91 395.25L244.01 395.25L244.01 395.45L252.11 395.45L252.11 395.51L260.22 395.51L260.22 395.53L268.32 395.53L268.32 395.56L276.42 395.56L276.42 395.58L284.52 395.58L284.52 395.61L292.63 395.61L292.63 395.63L300.73 395.63L300.73 395.66L308.83 395.66L308.83 395.68L316.93 395.68L316.93 395.71L325.04 395.71L325.04 395.73L333.14 395.73L333.14 395.76L341.24 395.76L341.24 395.78L349.34 395.78L349.34 395.81L357.45 395.81L357.45 395.83L365.55 395.83L365.55 400.02L357.45 400.02L357.45 400.05L349.34 400.05L349.34 400.07L341.24 400.07L341.24 400.1L333.14 400.1L333.14 400.12L325.04 400.12L325.04 400.15L316.93 400.15L316.93 400.18L308.83 400.18L308.83 400.2L300.73 400.2L300.73 400.23L292.63 400.23L292.63 400.25L284.52 400.25L284.52 400.28L276.42 400.28L276.42 400.31L268.32 400.31L268.32 400.33L260.22 400.33L260.22 400.36L252.11 400.36L252.11 400.42L244.01 400.42L244.01 400.63L235.91 400.63L235.91 400.84L227.81 400.84L227.81 401.04L219.7 401.04L219.7 401.25L211.6 401.25L211.6 401.46L203.5 401.46L203.5 401.54L195.4 401.54L195.4 401.61L187.29 401.61L187.29 401.69L179.19 401.69L179.19 401.76L171.09 401.76L171.09 401.83L162.99 401.83L162.99 401.91L154.88 401.91L154.88 401.98L146.78 401.98L146.78 402.06L138.68 402.06L138.68 402.38L130.58 402.38L130.58 403.07L122.47 403.07L122.47 403.77L114.37 403.77L114.37 404.23L106.27 404.23L106.27 404.71L98.17 404.71L98.17 405.18L90.06 405.18L90.06 405.18L81.96 405.18L81.96 406.13L73.86 406.13Z" fill="#8cfa96"/>
<path d="M45.5 398H370.9" stroke="#2a2a2a" stroke-width="1"/>
<g clip-path="url(#cb)">
<path d="M77.91 344.2V359.91M77.91 365.11V385.7M86.01 362.51V377.51M86.01 382.71V402.19M94.12 365.47V379.17M94.12 384.37V401.83M102.22 369.47V381M102.22 386.2V400.47M110.32 375.47V387.54M110.32 392.74V407.78M118.42 382.64V395.3M118.42 400.5V416.4M126.53 387.31V400.05M126.53 405.25V421.28M134.63 381.55V392.47M134.63 397.67V411.07M142.73 372.29V381.07M142.73 386.27V396.77M150.83 377.04V385.8M150.83 391V401.46M158.94 371.96V379.38M158.94 384.58V393.31M167.04 372.58V379.38M167.04 384.58V392.53M175.14 376.89V383.48M175.14 388.68V396.35M183.24 377.19V383.1M183.24 388.3V395.13M191.34 378.33V383.63M191.34 388.83V394.92M199.45 379.7V384.4M199.45 389.6V394.97M207.55 382.39V386.58M207.55 391.78V396.55M215.65 385.02V388.66M215.65 393.86V397.99M223.75 385.47V388.91M223.75 394.11V397.99M231.86 381.84V384.79M231.86 389.99V393.31M239.96 383.82V386.66M239.96 391.86V395.07M248.06 385.85V388.58M248.06 393.78V396.86M256.17 385.02V387.46M256.17 392.66V395.4M264.27 386.02V388.42M264.27 393.62V396.33M272.37 385.5V387.78M272.37 392.98V395.55M280.47 383.93V386.03M280.47 391.23V393.6M288.58 382.91V384.86M288.58 390.06V392.27M296.68 385.61V387.62M296.68 392.82V395.09M304.78 386.61V388.58M304.78 393.78V396.01M312.88 386.7V388.58M312.88 393.78V395.91M320.99 386.4V388.18M320.99 393.38V395.38M329.09 387.65V389.39M329.09 394.59V396.57M337.19 385.82V387.38M337.19 392.58V394.35M345.29 387.05V388.58M345.29 393.78V395.52M353.39 387.76V389.23M353.39 394.43V396.1M361.5 389.03V390.46M361.5 395.66V397.29" stroke="#0000ee" stroke-width="1.35" fill="none"/>
<path d="M76.41 344.2H79.41M76.41 385.7H79.41M84.51 362.51H87.51M84.51 402.19H87.51M92.62 365.47H95.62M92.62 401.83H95.62M100.72 369.47H103.72M100.72 400.47H103.72M108.82 375.47H111.82M108.82 407.78H111.82M116.92 382.64H119.92M116.92 416.4H119.92M125.03 387.31H128.03M125.03 421.28H128.03M133.13 381.55H136.13M133.13 411.07H136.13M141.23 372.29H144.23M141.23 396.77H144.23M149.33 377.04H152.33M149.33 401.46H152.33M157.44 371.96H160.44M157.44 393.31H160.44M165.54 372.58H168.54M165.54 392.53H168.54M173.64 376.89H176.64M173.64 396.35H176.64M181.74 377.19H184.74M181.74 395.13H184.74M189.84 378.33H192.84M189.84 394.92H192.84M197.95 379.7H200.95M197.95 394.97H200.95M206.05 382.39H209.05M206.05 396.55H209.05M214.15 385.02H217.15M214.15 397.99H217.15M222.25 385.47H225.25M222.25 397.99H225.25M230.36 381.84H233.36M230.36 393.31H233.36M238.46 383.82H241.46M238.46 395.07H241.46M246.56 385.85H249.56M246.56 396.86H249.56M254.67 385.02H257.67M254.67 395.4H257.67M262.77 386.02H265.77M262.77 396.33H265.77M270.87 385.5H273.87M270.87 395.55H273.87M278.97 383.93H281.97M278.97 393.6H281.97M287.08 382.91H290.08M287.08 392.27H290.08M295.18 385.61H298.18M295.18 395.09H298.18M303.28 386.61H306.28M303.28 396.01H306.28M311.38 386.7H314.38M311.38 395.91H314.38M319.49 386.4H322.49M319.49 395.38H322.49M327.59 387.65H330.59M327.59 396.57H330.59M335.69 385.82H338.69M335.69 394.35H338.69M343.79 387.05H346.79M343.79 395.52H346.79M351.89 387.76H354.89M351.89 396.1H354.89M360 389.03H363M360 397.29H363" stroke="#0000ee" stroke-width="1.1" fill="none"/>
<path d="M77.91 362.51L86.01 380.11L94.12 381.77L102.22 383.6L110.32 390.14L118.42 397.9L126.53 402.65L134.63 395.07L142.73 383.67L150.83 388.4L158.94 381.98L167.04 381.98L175.14 386.08L183.24 385.7L191.34 386.23L199.45 387L207.55 389.18L215.65 391.26L223.75 391.51L231.86 387.39L239.96 389.26L248.06 391.18L256.17 390.06L264.27 391.02L272.37 390.38L280.47 388.63L288.58 387.46L296.68 390.22L304.78 391.18L312.88 391.18L320.99 390.78L329.09 391.99L337.19 389.98L345.29 391.18L353.39 391.83L361.5 393.06" stroke="#0000ee" stroke-width="1.5" fill="none"/>
<path d="M77.91 360.01L80.61 364.81L75.21 364.81Z" fill="#0000ee"/><path d="M86.01 377.61L88.71 382.41L83.31 382.41Z" fill="#0000ee"/><path d="M94.12 379.27L96.82 384.07L91.42 384.07Z" fill="#0000ee"/><path d="M102.22 381.1L104.92 385.9L99.52 385.9Z" fill="#0000ee"/><path d="M110.32 387.64L113.02 392.44L107.62 392.44Z" fill="#0000ee"/><path d="M118.42 395.4L121.12 400.2L115.72 400.2Z" fill="#0000ee"/><path d="M126.53 400.15L129.22 404.95L123.83 404.95Z" fill="#0000ee"/><path d="M134.63 392.57L137.33 397.37L131.93 397.37Z" fill="#0000ee"/><path d="M142.73 381.17L145.43 385.97L140.03 385.97Z" fill="#0000ee"/><path d="M150.83 385.9L153.53 390.7L148.13 390.7Z" fill="#0000ee"/><path d="M158.94 379.48L161.63 384.28L156.24 384.28Z" fill="#0000ee"/><path d="M167.04 379.48L169.74 384.28L164.34 384.28Z" fill="#0000ee"/><path d="M175.14 383.58L177.84 388.38L172.44 388.38Z" fill="#0000ee"/><path d="M183.24 383.2L185.94 388L180.54 388Z" fill="#0000ee"/><path d="M191.34 383.73L194.04 388.53L188.65 388.53Z" fill="#0000ee"/><path d="M199.45 384.5L202.15 389.3L196.75 389.3Z" fill="#0000ee"/><path d="M207.55 386.68L210.25 391.48L204.85 391.48Z" fill="#0000ee"/><path d="M215.65 388.76L218.35 393.56L212.95 393.56Z" fill="#0000ee"/><path d="M223.75 389.01L226.45 393.81L221.06 393.81Z" fill="#0000ee"/><path d="M231.86 384.89L234.56 389.69L229.16 389.69Z" fill="#0000ee"/><path d="M239.96 386.76L242.66 391.56L237.26 391.56Z" fill="#0000ee"/><path d="M248.06 388.68L250.76 393.48L245.36 393.48Z" fill="#0000ee"/><path d="M256.17 387.56L258.87 392.36L253.47 392.36Z" fill="#0000ee"/><path d="M264.27 388.52L266.97 393.32L261.57 393.32Z" fill="#0000ee"/><path d="M272.37 387.88L275.07 392.68L269.67 392.68Z" fill="#0000ee"/><path d="M280.47 386.13L283.17 390.93L277.77 390.93Z" fill="#0000ee"/><path d="M288.58 384.96L291.28 389.76L285.88 389.76Z" fill="#0000ee"/><path d="M296.68 387.72L299.38 392.52L293.98 392.52Z" fill="#0000ee"/><path d="M304.78 388.68L307.48 393.48L302.08 393.48Z" fill="#0000ee"/><path d="M312.88 388.68L315.58 393.48L310.18 393.48Z" fill="#0000ee"/><path d="M320.99 388.28L323.69 393.08L318.29 393.08Z" fill="#0000ee"/><path d="M329.09 389.49L331.79 394.29L326.39 394.29Z" fill="#0000ee"/><path d="M337.19 387.48L339.89 392.28L334.49 392.28Z" fill="#0000ee"/><path d="M345.29 388.68L347.99 393.48L342.59 393.48Z" fill="#0000ee"/><path d="M353.39 389.33L356.09 394.13L350.69 394.13Z" fill="#0000ee"/><path d="M361.5 390.56L364.2 395.36L358.8 395.36Z" fill="#0000ee"/>
<path d="M77.91 361.69V378.37M77.91 383.57V405.75M86.01 364.57V380.12M86.01 385.32V405.65M94.12 375.13V391.21M94.12 396.41V417.6M102.22 377.38V391.88M102.22 397.08V415.76M110.32 373.01V384.63M110.32 389.83V404.23M118.42 370.95V381.59M118.42 386.79V399.81M126.53 373.58V384.02M126.53 389.22V401.95M134.63 381.77V392.89M134.63 398.09V411.78M142.73 371.27V380.12M142.73 385.32V395.89M150.83 371.17V379.38M150.83 384.58V394.34M158.94 376.35V384.63M158.94 389.83V399.66M167.04 372.9V380.12M167.04 385.32V393.78M175.14 378.19V385.41M175.14 390.61V399.07M183.24 378.77V385.41M183.24 390.61V398.34M191.34 380.78V386.98M191.34 392.18V399.37M199.45 382.84V388.58M199.45 393.78V400.41M207.55 385.7V391.04M207.55 396.24V402.38M215.65 386.53V391.88M215.65 397.08V403.22M223.75 387.36V392.72M223.75 397.92V404.08M231.86 388.59V394M231.86 399.2V405.42M239.96 389.84V395.3M239.96 400.5V406.77M248.06 391.11V396.62M248.06 401.82V408.15M256.17 392.4V397.96M256.17 403.16V409.56M264.27 392.85V398.41M264.27 403.61V410.02M272.37 393.29V398.86M272.37 404.06V410.48M280.47 393.99V399.59M280.47 404.79V411.25M288.58 394.1V399.69M288.58 404.89V411.32M296.68 394.22V399.78M296.68 404.98V411.38M304.78 395.6V401.26M304.78 406.46V412.98M312.88 395.49V401.1M312.88 406.3V412.77M320.99 395.37V400.94M320.99 406.14V412.55M329.09 395.26V400.78M329.09 405.98V412.33M337.19 395.15V400.62M337.19 405.82V412.12M345.29 395.04V400.46M345.29 405.66V411.9M353.39 394.92V400.3M353.39 405.5V411.69M361.5 394.81V400.15M361.5 405.35V411.47" stroke="#9a003e" stroke-width="1.35" fill="none" stroke-dasharray="2,2"/>
<path d="M76.41 361.69H79.41M76.41 405.75H79.41M84.51 364.57H87.51M84.51 405.65H87.51M92.62 375.13H95.62M92.62 417.6H95.62M100.72 377.38H103.72M100.72 415.76H103.72M108.82 373.01H111.82M108.82 404.23H111.82M116.92 370.95H119.92M116.92 399.81H119.92M125.03 373.58H128.03M125.03 401.95H128.03M133.13 381.77H136.13M133.13 411.78H136.13M141.23 371.27H144.23M141.23 395.89H144.23M149.33 371.17H152.33M149.33 394.34H152.33M157.44 376.35H160.44M157.44 399.66H160.44M165.54 372.9H168.54M165.54 393.78H168.54M173.64 378.19H176.64M173.64 399.07H176.64M181.74 378.77H184.74M181.74 398.34H184.74M189.84 380.78H192.84M189.84 399.37H192.84M197.95 382.84H200.95M197.95 400.41H200.95M206.05 385.7H209.05M206.05 402.38H209.05M214.15 386.53H217.15M214.15 403.22H217.15M222.25 387.36H225.25M222.25 404.08H225.25M230.36 388.59H233.36M230.36 405.42H233.36M238.46 389.84H241.46M238.46 406.77H241.46M246.56 391.11H249.56M246.56 408.15H249.56M254.67 392.4H257.67M254.67 409.56H257.67M262.77 392.85H265.77M262.77 410.02H265.77M270.87 393.29H273.87M270.87 410.48H273.87M278.97 393.99H281.97M278.97 411.25H281.97M287.08 394.1H290.08M287.08 411.32H290.08M295.18 394.22H298.18M295.18 411.38H298.18M303.28 395.6H306.28M303.28 412.98H306.28M311.38 395.49H314.38M311.38 412.77H314.38M319.49 395.37H322.49M319.49 412.55H322.49M327.59 395.26H330.59M327.59 412.33H330.59M335.69 395.15H338.69M335.69 412.12H338.69M343.79 395.04H346.79M343.79 411.9H346.79M351.89 394.92H354.89M351.89 411.69H354.89M360 394.81H363M360 411.47H363" stroke="#9a003e" stroke-width="1.1" fill="none"/>
<path d="M77.91 380.97L86.01 382.72L94.12 393.81L102.22 394.48L110.32 387.23L118.42 384.19L126.53 386.62L134.63 395.49L142.73 382.72L150.83 381.98L158.94 387.23L167.04 382.72L175.14 388.01L183.24 388.01L191.34 389.58L199.45 391.18L207.55 393.64L215.65 394.48L223.75 395.32L231.86 396.6L239.96 397.9L248.06 399.22L256.17 400.56L264.27 401.01L272.37 401.46L280.47 402.19L288.58 402.29L296.68 402.38L304.78 403.86L312.88 403.7L320.99 403.54L329.09 403.38L337.19 403.22L345.29 403.06L353.39 402.9L361.5 402.75" stroke="#9a003e" stroke-width="1.2" fill="none" stroke-dasharray="2,2"/>
<path d="M77.91 383.27L80.51 378.87L75.31 378.87Z" fill="#9a003e"/><path d="M86.01 385.02L88.61 380.62L83.41 380.62Z" fill="#9a003e"/><path d="M94.12 396.11L96.72 391.71L91.52 391.71Z" fill="#9a003e"/><path d="M102.22 396.78L104.82 392.38L99.62 392.38Z" fill="#9a003e"/><path d="M110.32 389.53L112.92 385.13L107.72 385.13Z" fill="#9a003e"/><path d="M118.42 386.49L121.02 382.09L115.82 382.09Z" fill="#9a003e"/><path d="M126.53 388.92L129.12 384.52L123.93 384.52Z" fill="#9a003e"/><path d="M134.63 397.79L137.23 393.39L132.03 393.39Z" fill="#9a003e"/><path d="M142.73 385.02L145.33 380.62L140.13 380.62Z" fill="#9a003e"/><path d="M150.83 384.28L153.43 379.88L148.23 379.88Z" fill="#9a003e"/><path d="M158.94 389.53L161.53 385.13L156.34 385.13Z" fill="#9a003e"/><path d="M167.04 385.02L169.64 380.62L164.44 380.62Z" fill="#9a003e"/><path d="M175.14 390.31L177.74 385.91L172.54 385.91Z" fill="#9a003e"/><path d="M183.24 390.31L185.84 385.91L180.64 385.91Z" fill="#9a003e"/><path d="M191.34 391.88L193.94 387.48L188.75 387.48Z" fill="#9a003e"/><path d="M199.45 393.48L202.05 389.08L196.85 389.08Z" fill="#9a003e"/><path d="M207.55 395.94L210.15 391.54L204.95 391.54Z" fill="#9a003e"/><path d="M215.65 396.78L218.25 392.38L213.05 392.38Z" fill="#9a003e"/><path d="M223.75 397.62L226.35 393.22L221.16 393.22Z" fill="#9a003e"/><path d="M231.86 398.9L234.46 394.5L229.26 394.5Z" fill="#9a003e"/><path d="M239.96 400.2L242.56 395.8L237.36 395.8Z" fill="#9a003e"/><path d="M248.06 401.52L250.66 397.12L245.46 397.12Z" fill="#9a003e"/><path d="M256.17 402.86L258.77 398.46L253.57 398.46Z" fill="#9a003e"/><path d="M264.27 403.31L266.87 398.91L261.67 398.91Z" fill="#9a003e"/><path d="M272.37 403.76L274.97 399.36L269.77 399.36Z" fill="#9a003e"/><path d="M280.47 404.49L283.07 400.09L277.87 400.09Z" fill="#9a003e"/><path d="M288.58 404.59L291.18 400.19L285.98 400.19Z" fill="#9a003e"/><path d="M296.68 404.68L299.28 400.28L294.08 400.28Z" fill="#9a003e"/><path d="M304.78 406.16L307.38 401.76L302.18 401.76Z" fill="#9a003e"/><path d="M312.88 406L315.48 401.6L310.28 401.6Z" fill="#9a003e"/><path d="M320.99 405.84L323.59 401.44L318.38 401.44Z" fill="#9a003e"/><path d="M329.09 405.68L331.69 401.28L326.49 401.28Z" fill="#9a003e"/><path d="M337.19 405.52L339.79 401.12L334.59 401.12Z" fill="#9a003e"/><path d="M345.29 405.36L347.89 400.96L342.69 400.96Z" fill="#9a003e"/><path d="M353.39 405.2L356 400.8L350.79 400.8Z" fill="#9a003e"/><path d="M361.5 405.05L364.1 400.65L358.9 400.65Z" fill="#9a003e"/>
<path d="M77.91 362.51V379.38M77.91 384.58V407.1M86.01 365.16V380.85M86.01 386.05V406.61M94.12 371.7V386.98M94.12 392.18V412.09M102.22 383.67V399.59M102.22 404.79V425.73M110.32 377.73V390.21M110.32 395.41V411.07M118.42 377.61V389.39M118.42 394.59V409.22M126.53 378.89V390.21M126.53 395.41V409.39M134.63 370.74V380.12M134.63 385.32V396.6M142.73 379.36V389.39M142.73 394.59V406.77M150.83 379.24V388.58M150.83 393.78V405.02M158.94 371.7V379.38M158.94 384.58V393.64M167.04 374.89V382.34M167.04 387.54V396.31M175.14 378.19V385.41M175.14 390.61V399.07M183.24 379.12V385.8M183.24 391V398.78M191.34 380.07V386.19M191.34 391.39V398.48M199.45 381.02V386.58M199.45 391.78V398.19M207.55 381.98V386.98M207.55 392.18V397.9M215.65 383.82V388.58M215.65 393.78V399.22M223.75 384.94V389.39M223.75 394.59V399.66M231.86 384.94V388.99M231.86 394.19V398.78M239.96 384.94V388.58M239.96 393.78V397.9M248.06 384.29V387.78M248.06 392.98V396.92M256.17 383.64V386.98M256.17 392.18V395.96M264.27 384.47V387.78M264.27 392.98V396.71M272.37 383.23V386.35M272.37 391.55V395.07M280.47 382.38V385.41M280.47 390.61V394.02M288.58 383.52V386.58M288.58 391.78V395.24M296.68 384.67V387.78M296.68 392.98V396.48M304.78 386.99V390.21M304.78 395.41V399.06M312.88 387.79V391.04M312.88 396.24V399.91M320.99 388.61V391.88M320.99 397.08V400.76M329.09 389.44V392.72M329.09 397.92V401.63M337.19 390.07V393.36M337.19 398.56V402.27M345.29 390.71V394M345.29 399.2V402.92M353.39 391.35V394.65M353.39 399.85V403.58M361.5 391.99V395.3M361.5 400.5V404.23" stroke="#c0063c" stroke-width="1.35" fill="none" stroke-dasharray="1.8,3.3,0.7,2.4"/>
<path d="M76.41 362.51H79.41M76.41 407.1H79.41M84.51 365.16H87.51M84.51 406.61H87.51M92.62 371.7H95.62M92.62 412.09H95.62M100.72 383.67H103.72M100.72 425.73H103.72M108.82 377.73H111.82M108.82 411.07H111.82M116.92 377.61H119.92M116.92 409.22H119.92M125.03 378.89H128.03M125.03 409.39H128.03M133.13 370.74H136.13M133.13 396.6H136.13M141.23 379.36H144.23M141.23 406.77H144.23M149.33 379.24H152.33M149.33 405.02H152.33M157.44 371.7H160.44M157.44 393.64H160.44M165.54 374.89H168.54M165.54 396.31H168.54M173.64 378.19H176.64M173.64 399.07H176.64M181.74 379.12H184.74M181.74 398.78H184.74M189.84 380.07H192.84M189.84 398.48H192.84M197.95 381.02H200.95M197.95 398.19H200.95M206.05 381.98H209.05M206.05 397.9H209.05M214.15 383.82H217.15M214.15 399.22H217.15M222.25 384.94H225.25M222.25 399.66H225.25M230.36 384.94H233.36M230.36 398.78H233.36M238.46 384.94H241.46M238.46 397.9H241.46M246.56 384.29H249.56M246.56 396.92H249.56M254.67 383.64H257.67M254.67 395.96H257.67M262.77 384.47H265.77M262.77 396.71H265.77M270.87 383.23H273.87M270.87 395.07H273.87M278.97 382.38H281.97M278.97 394.02H281.97M287.08 383.52H290.08M287.08 395.24H290.08M295.18 384.67H298.18M295.18 396.48H298.18M303.28 386.99H306.28M303.28 399.06H306.28M311.38 387.79H314.38M311.38 399.91H314.38M319.49 388.61H322.49M319.49 400.76H322.49M327.59 389.44H330.59M327.59 401.63H330.59M335.69 390.07H338.69M335.69 402.27H338.69M343.79 390.71H346.79M343.79 402.92H346.79M351.89 391.35H354.89M351.89 403.58H354.89M360 391.99H363M360 404.23H363" stroke="#c0063c" stroke-width="1.1" fill="none"/>
<path d="M77.91 381.98L86.01 383.45L94.12 389.58L102.22 402.19L110.32 392.81L118.42 391.99L126.53 392.81L134.63 382.72L142.73 391.99L150.83 391.18L158.94 381.98L167.04 384.94L175.14 388.01L183.24 388.4L191.34 388.79L199.45 389.18L207.55 389.58L215.65 391.18L223.75 391.99L231.86 391.59L239.96 391.18L248.06 390.38L256.17 389.58L264.27 390.38L272.37 388.95L280.47 388.01L288.58 389.18L296.68 390.38L304.78 392.81L312.88 393.64L320.99 394.48L329.09 395.32L337.19 395.96L345.29 396.6L353.39 397.25L361.5 397.9" stroke="#c0063c" stroke-width="1.2" fill="none" stroke-dasharray="1.8,3.3,0.7,2.4"/>
<path d="M77.91 379.78L79.81 381.98L77.91 384.18L76.01 381.98Z" fill="none" stroke="#c0063c" stroke-width="1.3"/><path d="M86.01 381.25L87.91 383.45L86.01 385.65L84.11 383.45Z" fill="none" stroke="#c0063c" stroke-width="1.3"/><path d="M94.12 387.38L96.02 389.58L94.12 391.78L92.22 389.58Z" fill="none" stroke="#c0063c" stroke-width="1.3"/><path d="M102.22 399.99L104.12 402.19L102.22 404.39L100.32 402.19Z" fill="none" stroke="#c0063c" stroke-width="1.3"/><path d="M110.32 390.61L112.22 392.81L110.32 395.01L108.42 392.81Z" fill="none" stroke="#c0063c" stroke-width="1.3"/><path d="M118.42 389.79L120.32 391.99L118.42 394.19L116.52 391.99Z" fill="none" stroke="#c0063c" stroke-width="1.3"/><path d="M126.53 390.61L128.43 392.81L126.53 395.01L124.62 392.81Z" fill="none" stroke="#c0063c" stroke-width="1.3"/><path d="M134.63 380.52L136.53 382.72L134.63 384.92L132.73 382.72Z" fill="none" stroke="#c0063c" stroke-width="1.3"/><path d="M142.73 389.79L144.63 391.99L142.73 394.19L140.83 391.99Z" fill="none" stroke="#c0063c" stroke-width="1.3"/><path d="M150.83 388.98L152.73 391.18L150.83 393.38L148.93 391.18Z" fill="none" stroke="#c0063c" stroke-width="1.3"/><path d="M158.94 379.78L160.84 381.98L158.94 384.18L157.03 381.98Z" fill="none" stroke="#c0063c" stroke-width="1.3"/><path d="M167.04 382.74L168.94 384.94L167.04 387.14L165.14 384.94Z" fill="none" stroke="#c0063c" stroke-width="1.3"/><path d="M175.14 385.81L177.04 388.01L175.14 390.21L173.24 388.01Z" fill="none" stroke="#c0063c" stroke-width="1.3"/><path d="M183.24 386.2L185.14 388.4L183.24 390.6L181.34 388.4Z" fill="none" stroke="#c0063c" stroke-width="1.3"/><path d="M191.34 386.59L193.25 388.79L191.34 390.99L189.44 388.79Z" fill="none" stroke="#c0063c" stroke-width="1.3"/><path d="M199.45 386.98L201.35 389.18L199.45 391.38L197.55 389.18Z" fill="none" stroke="#c0063c" stroke-width="1.3"/><path d="M207.55 387.38L209.45 389.58L207.55 391.78L205.65 389.58Z" fill="none" stroke="#c0063c" stroke-width="1.3"/><path d="M215.65 388.98L217.55 391.18L215.65 393.38L213.75 391.18Z" fill="none" stroke="#c0063c" stroke-width="1.3"/><path d="M223.75 389.79L225.66 391.99L223.75 394.19L221.85 391.99Z" fill="none" stroke="#c0063c" stroke-width="1.3"/><path d="M231.86 389.39L233.76 391.59L231.86 393.79L229.96 391.59Z" fill="none" stroke="#c0063c" stroke-width="1.3"/><path d="M239.96 388.98L241.86 391.18L239.96 393.38L238.06 391.18Z" fill="none" stroke="#c0063c" stroke-width="1.3"/><path d="M248.06 388.18L249.96 390.38L248.06 392.58L246.16 390.38Z" fill="none" stroke="#c0063c" stroke-width="1.3"/><path d="M256.17 387.38L258.06 389.58L256.17 391.78L254.27 389.58Z" fill="none" stroke="#c0063c" stroke-width="1.3"/><path d="M264.27 388.18L266.17 390.38L264.27 392.58L262.37 390.38Z" fill="none" stroke="#c0063c" stroke-width="1.3"/><path d="M272.37 386.75L274.27 388.95L272.37 391.15L270.47 388.95Z" fill="none" stroke="#c0063c" stroke-width="1.3"/><path d="M280.47 385.81L282.37 388.01L280.47 390.21L278.57 388.01Z" fill="none" stroke="#c0063c" stroke-width="1.3"/><path d="M288.58 386.98L290.48 389.18L288.58 391.38L286.68 389.18Z" fill="none" stroke="#c0063c" stroke-width="1.3"/><path d="M296.68 388.18L298.58 390.38L296.68 392.58L294.78 390.38Z" fill="none" stroke="#c0063c" stroke-width="1.3"/><path d="M304.78 390.61L306.68 392.81L304.78 395.01L302.88 392.81Z" fill="none" stroke="#c0063c" stroke-width="1.3"/><path d="M312.88 391.44L314.78 393.64L312.88 395.84L310.98 393.64Z" fill="none" stroke="#c0063c" stroke-width="1.3"/><path d="M320.99 392.28L322.88 394.48L320.99 396.68L319.09 394.48Z" fill="none" stroke="#c0063c" stroke-width="1.3"/><path d="M329.09 393.12L330.99 395.32L329.09 397.52L327.19 395.32Z" fill="none" stroke="#c0063c" stroke-width="1.3"/><path d="M337.19 393.76L339.09 395.96L337.19 398.16L335.29 395.96Z" fill="none" stroke="#c0063c" stroke-width="1.3"/><path d="M345.29 394.4L347.19 396.6L345.29 398.8L343.39 396.6Z" fill="none" stroke="#c0063c" stroke-width="1.3"/><path d="M353.39 395.05L355.29 397.25L353.39 399.45L351.5 397.25Z" fill="none" stroke="#c0063c" stroke-width="1.3"/><path d="M361.5 395.7L363.4 397.9L361.5 400.1L359.6 397.9Z" fill="none" stroke="#c0063c" stroke-width="1.3"/>
<path d="M77.91 382.5V405.18M77.91 410.38V443.52M86.01 392.81V416.43M86.01 421.63V456.68M94.12 399.84V423.01M94.12 428.21V462.33M102.22 401.28V421.94M102.22 427.14V456.34M110.32 391.34V406.66M110.32 411.86V431.82M118.42 394.48V409.49M118.42 414.69V434.17M126.53 386.92V399.41M126.53 404.61V420.26M134.63 389.03V400.98M134.63 406.18V421.06M142.73 389.82V400.98M142.73 406.18V419.93M150.83 394.98V406.06M150.83 411.26V424.9M158.94 396.43V406.76M158.94 411.96V424.54M167.04 397.26V407.06M167.04 412.26V424.11M175.14 401.31V411.04M175.14 416.24V428M183.24 404.23V413.69M183.24 418.89V430.29M191.34 401.98V410.42M191.34 415.62V425.65M199.45 398.89V406.26M199.45 411.46V420.11M207.55 391.51V397.42M207.55 402.62V409.46M215.65 385.9V391.12M215.65 396.32V402.32M223.75 385.5V390.54M223.75 395.74V401.52M231.86 386.85V391.88M231.86 397.08V402.84M239.96 386.97V391.88M239.96 397.08V402.68M248.06 387.49V392.3M248.06 397.5V402.99M256.17 387.23V391.88M256.17 397.08V402.38M264.27 387.35V391.88M264.27 397.08V402.24M272.37 386.31V390.63M272.37 395.83V400.73M280.47 385.67V389.8M280.47 395V399.7M288.58 386.7V390.79M288.58 395.99V400.64M296.68 387.83V391.88M296.68 397.08V401.67M304.78 388.73V392.72M304.78 397.92V402.45M312.88 388.85V392.72M312.88 397.92V402.31M320.99 388.19V391.88M320.99 397.08V401.25M329.09 389.89V393.57M329.09 398.77V402.94M337.19 391.62V395.3M337.19 400.5V404.67M345.29 392.56V396.18M345.29 401.38V405.47M353.39 393.85V397.42M353.39 402.62V406.67M361.5 393.97V397.42M361.5 402.62V406.52" stroke="#c44616" stroke-width="1.35" fill="none" stroke-dasharray="3.6,2.2,0.8,1.9"/>
<path d="M76.41 382.5H79.41M76.41 443.52H79.41M84.51 392.81H87.51M84.51 456.68H87.51M92.62 399.84H95.62M92.62 462.33H95.62M100.72 401.28H103.72M100.72 456.34H103.72M108.82 391.34H111.82M108.82 431.82H111.82M116.92 394.48H119.92M116.92 434.17H119.92M125.03 386.92H128.03M125.03 420.26H128.03M133.13 389.03H136.13M133.13 421.06H136.13M141.23 389.82H144.23M141.23 419.93H144.23M149.33 394.98H152.33M149.33 424.9H152.33M157.44 396.43H160.44M157.44 424.54H160.44M165.54 397.26H168.54M165.54 424.11H168.54M173.64 401.31H176.64M173.64 428H176.64M181.74 404.23H184.74M181.74 430.29H184.74M189.84 401.98H192.84M189.84 425.65H192.84M197.95 398.89H200.95M197.95 420.11H200.95M206.05 391.51H209.05M206.05 409.46H209.05M214.15 385.9H217.15M214.15 402.32H217.15M222.25 385.5H225.25M222.25 401.52H225.25M230.36 386.85H233.36M230.36 402.84H233.36M238.46 386.97H241.46M238.46 402.68H241.46M246.56 387.49H249.56M246.56 402.99H249.56M254.67 387.23H257.67M254.67 402.38H257.67M262.77 387.35H265.77M262.77 402.24H265.77M270.87 386.31H273.87M270.87 400.73H273.87M278.97 385.67H281.97M278.97 399.7H281.97M287.08 386.7H290.08M287.08 400.64H290.08M295.18 387.83H298.18M295.18 401.67H298.18M303.28 388.73H306.28M303.28 402.45H306.28M311.38 388.85H314.38M311.38 402.31H314.38M319.49 388.19H322.49M319.49 401.25H322.49M327.59 389.89H330.59M327.59 402.94H330.59M335.69 391.62H338.69M335.69 404.67H338.69M343.79 392.56H346.79M343.79 405.47H346.79M351.89 393.85H354.89M351.89 406.67H354.89M360 393.97H363M360 406.52H363" stroke="#c44616" stroke-width="1.1" fill="none"/>
<path d="M77.91 407.78L86.01 419.03L94.12 425.61L102.22 424.54L110.32 409.26L118.42 412.09L126.53 402.01L134.63 403.58L142.73 403.58L150.83 408.66L158.94 409.36L167.04 409.66L175.14 413.64L183.24 416.29L191.34 413.02L199.45 408.86L207.55 400.02L215.65 393.72L223.75 393.14L231.86 394.48L239.96 394.48L248.06 394.9L256.17 394.48L264.27 394.48L272.37 393.23L280.47 392.4L288.58 393.39L296.68 394.48L304.78 395.32L312.88 395.32L320.99 394.48L329.09 396.17L337.19 397.9L345.29 398.78L353.39 400.02L361.5 400.02" stroke="#c44616" stroke-width="1.2" fill="none" stroke-dasharray="3.6,2.2,0.8,1.9"/>
<rect x="75.61" y="405.38" width="4.6" height="4.8" fill="none" stroke="#c44616" stroke-width="1.2"/><rect x="83.71" y="416.63" width="4.6" height="4.8" fill="none" stroke="#c44616" stroke-width="1.2"/><rect x="91.82" y="423.21" width="4.6" height="4.8" fill="none" stroke="#c44616" stroke-width="1.2"/><rect x="99.92" y="422.14" width="4.6" height="4.8" fill="none" stroke="#c44616" stroke-width="1.2"/><rect x="108.02" y="406.86" width="4.6" height="4.8" fill="none" stroke="#c44616" stroke-width="1.2"/><rect x="116.12" y="409.69" width="4.6" height="4.8" fill="none" stroke="#c44616" stroke-width="1.2"/><rect x="124.23" y="399.61" width="4.6" height="4.8" fill="none" stroke="#c44616" stroke-width="1.2"/><rect x="132.33" y="401.18" width="4.6" height="4.8" fill="none" stroke="#c44616" stroke-width="1.2"/><rect x="140.43" y="401.18" width="4.6" height="4.8" fill="none" stroke="#c44616" stroke-width="1.2"/><rect x="148.53" y="406.26" width="4.6" height="4.8" fill="none" stroke="#c44616" stroke-width="1.2"/><rect x="156.63" y="406.96" width="4.6" height="4.8" fill="none" stroke="#c44616" stroke-width="1.2"/><rect x="164.74" y="407.26" width="4.6" height="4.8" fill="none" stroke="#c44616" stroke-width="1.2"/><rect x="172.84" y="411.24" width="4.6" height="4.8" fill="none" stroke="#c44616" stroke-width="1.2"/><rect x="180.94" y="413.89" width="4.6" height="4.8" fill="none" stroke="#c44616" stroke-width="1.2"/><rect x="189.04" y="410.62" width="4.6" height="4.8" fill="none" stroke="#c44616" stroke-width="1.2"/><rect x="197.15" y="406.46" width="4.6" height="4.8" fill="none" stroke="#c44616" stroke-width="1.2"/><rect x="205.25" y="397.62" width="4.6" height="4.8" fill="none" stroke="#c44616" stroke-width="1.2"/><rect x="213.35" y="391.32" width="4.6" height="4.8" fill="none" stroke="#c44616" stroke-width="1.2"/><rect x="221.45" y="390.74" width="4.6" height="4.8" fill="none" stroke="#c44616" stroke-width="1.2"/><rect x="229.56" y="392.08" width="4.6" height="4.8" fill="none" stroke="#c44616" stroke-width="1.2"/><rect x="237.66" y="392.08" width="4.6" height="4.8" fill="none" stroke="#c44616" stroke-width="1.2"/><rect x="245.76" y="392.5" width="4.6" height="4.8" fill="none" stroke="#c44616" stroke-width="1.2"/><rect x="253.87" y="392.08" width="4.6" height="4.8" fill="none" stroke="#c44616" stroke-width="1.2"/><rect x="261.97" y="392.08" width="4.6" height="4.8" fill="none" stroke="#c44616" stroke-width="1.2"/><rect x="270.07" y="390.83" width="4.6" height="4.8" fill="none" stroke="#c44616" stroke-width="1.2"/><rect x="278.17" y="390" width="4.6" height="4.8" fill="none" stroke="#c44616" stroke-width="1.2"/><rect x="286.28" y="390.99" width="4.6" height="4.8" fill="none" stroke="#c44616" stroke-width="1.2"/><rect x="294.38" y="392.08" width="4.6" height="4.8" fill="none" stroke="#c44616" stroke-width="1.2"/><rect x="302.48" y="392.92" width="4.6" height="4.8" fill="none" stroke="#c44616" stroke-width="1.2"/><rect x="310.58" y="392.92" width="4.6" height="4.8" fill="none" stroke="#c44616" stroke-width="1.2"/><rect x="318.69" y="392.08" width="4.6" height="4.8" fill="none" stroke="#c44616" stroke-width="1.2"/><rect x="326.79" y="393.77" width="4.6" height="4.8" fill="none" stroke="#c44616" stroke-width="1.2"/><rect x="334.89" y="395.5" width="4.6" height="4.8" fill="none" stroke="#c44616" stroke-width="1.2"/><rect x="342.99" y="396.38" width="4.6" height="4.8" fill="none" stroke="#c44616" stroke-width="1.2"/><rect x="351.09" y="397.62" width="4.6" height="4.8" fill="none" stroke="#c44616" stroke-width="1.2"/><rect x="359.2" y="397.62" width="4.6" height="4.8" fill="none" stroke="#c44616" stroke-width="1.2"/>
<path d="M77.91 392.08V414.89M77.91 420.09V453.49M86.01 405.94V427.06M86.01 432.26V462.33M94.12 406.04V425.07M94.12 430.27V456.51M102.22 418.53V438.88M102.22 444.08V472.7M110.32 407.78V423.01M110.32 428.21V448.05M118.42 409.61V424.34M118.42 429.54V448.59M126.53 409.76V423.61M126.53 428.81V446.51M134.63 400.51V411.78M134.63 416.98V430.86M142.73 388.87V397.6M142.73 402.8V413.22M150.83 387.42V395.3M150.83 400.5V409.81M158.94 384.79V391.71M158.94 396.91V404.99M167.04 382.57V388.82M167.04 394.02V401.28M175.14 386.85V393.14M175.14 398.34V405.65M183.24 383.75V389.31M183.24 394.51V400.92M191.34 382.94V388.02M191.34 393.22V399.04M199.45 383.45V388.18M199.45 393.38V398.78M207.55 384.57V388.99M207.55 394.19V399.22M215.65 385.31V389.72M215.65 394.92V399.95M223.75 384.62V388.91M223.75 394.11V398.98M231.86 388.2V392.72M231.86 397.92V403.07M239.96 389.05V393.57M239.96 398.77V403.92M248.06 389.91V394.43M248.06 399.63V404.78M256.17 389.66V394.09M256.17 399.29V404.33M264.27 390.47V394.86M264.27 400.06V405.07M272.37 391.77V396.18M272.37 401.38V406.39M280.47 392.19V396.53M280.47 401.73V406.67M288.58 392.21V396.44M288.58 401.64V406.46M296.68 393.7V397.96M296.68 403.16V408M304.78 394.64V398.86M304.78 404.06V408.87M312.88 395.5V399.69M312.88 404.89V409.65M320.99 395.68V399.78M320.99 404.98V409.63M329.09 398.11V402.29M329.09 407.49V412.25M337.19 398.47V402.58M337.19 407.78V412.44M345.29 398.57V402.58M345.29 407.78V412.32M353.39 398.68V402.58M353.39 407.78V412.21M361.5 398.78V402.58M361.5 407.78V412.09" stroke="#b05a08" stroke-width="1.35" fill="none"/>
<path d="M76.41 392.08H79.41M76.41 453.49H79.41M84.51 405.94H87.51M84.51 462.33H87.51M92.62 406.04H95.62M92.62 456.51H95.62M100.72 418.53H103.72M100.72 472.7H103.72M108.82 407.78H111.82M108.82 448.05H111.82M116.92 409.61H119.92M116.92 448.59H119.92M125.03 409.76H128.03M125.03 446.51H128.03M133.13 400.51H136.13M133.13 430.86H136.13M141.23 388.87H144.23M141.23 413.22H144.23M149.33 387.42H152.33M149.33 409.81H152.33M157.44 384.79H160.44M157.44 404.99H160.44M165.54 382.57H168.54M165.54 401.28H168.54M173.64 386.85H176.64M173.64 405.65H176.64M181.74 383.75H184.74M181.74 400.92H184.74M189.84 382.94H192.84M189.84 399.04H192.84M197.95 383.45H200.95M197.95 398.78H200.95M206.05 384.57H209.05M206.05 399.22H209.05M214.15 385.31H217.15M214.15 399.95H217.15M222.25 384.62H225.25M222.25 398.98H225.25M230.36 388.2H233.36M230.36 403.07H233.36M238.46 389.05H241.46M238.46 403.92H241.46M246.56 389.91H249.56M246.56 404.78H249.56M254.67 389.66H257.67M254.67 404.33H257.67M262.77 390.47H265.77M262.77 405.07H265.77M270.87 391.77H273.87M270.87 406.39H273.87M278.97 392.19H281.97M278.97 406.67H281.97M287.08 392.21H290.08M287.08 406.46H290.08M295.18 393.7H298.18M295.18 408H298.18M303.28 394.64H306.28M303.28 408.87H306.28M311.38 395.5H314.38M311.38 409.65H314.38M319.49 395.68H322.49M319.49 409.63H322.49M327.59 398.11H330.59M327.59 412.25H330.59M335.69 398.47H338.69M335.69 412.44H338.69M343.79 398.57H346.79M343.79 412.32H346.79M351.89 398.68H354.89M351.89 412.21H354.89M360 398.78H363M360 412.09H363" stroke="#b05a08" stroke-width="1.1" fill="none"/>
<path d="M77.91 417.49L86.01 429.66L94.12 427.67L102.22 441.48L110.32 425.61L118.42 426.94L126.53 426.21L134.63 414.38L142.73 400.2L150.83 397.9L158.94 394.31L167.04 391.42L175.14 395.74L183.24 391.91L191.34 390.62L199.45 390.78L207.55 391.59L215.65 392.32L223.75 391.51L231.86 395.32L239.96 396.17L248.06 397.03L256.17 396.69L264.27 397.46L272.37 398.78L280.47 399.13L288.58 399.04L296.68 400.56L304.78 401.46L312.88 402.29L320.99 402.38L329.09 404.89L337.19 405.18L345.29 405.18L353.39 405.18L361.5 405.18" stroke="#b05a08" stroke-width="1.2" fill="none"/>
<path d="M77.91 414.39L78.7 416.4L80.86 416.53L79.19 417.91L79.73 420L77.91 418.84L76.09 420L76.63 417.91L74.96 416.53L77.12 416.4Z" fill="#b05a08"/><path d="M86.01 426.56L86.81 428.57L88.96 428.7L87.3 430.08L87.83 432.17L86.01 431.01L84.19 432.17L84.73 430.08L83.06 428.7L85.22 428.57Z" fill="#b05a08"/><path d="M94.12 424.57L94.91 426.58L97.06 426.72L95.4 428.09L95.94 430.18L94.12 429.02L92.29 430.18L92.83 428.09L91.17 426.72L93.32 426.58Z" fill="#b05a08"/><path d="M102.22 438.38L103.01 440.39L105.17 440.52L103.5 441.9L104.04 443.99L102.22 442.83L100.4 443.99L100.93 441.9L99.27 440.52L101.42 440.39Z" fill="#b05a08"/><path d="M110.32 422.51L111.11 424.52L113.27 424.65L111.6 426.03L112.14 428.12L110.32 426.96L108.5 428.12L109.04 426.03L107.37 424.65L109.53 424.52Z" fill="#b05a08"/><path d="M118.42 423.84L119.22 425.85L121.37 425.98L119.71 427.36L120.24 429.45L118.42 428.29L116.6 429.45L117.14 427.36L115.47 425.98L117.63 425.85Z" fill="#b05a08"/><path d="M126.53 423.11L127.32 425.12L129.47 425.26L127.81 426.63L128.35 428.72L126.53 427.56L124.7 428.72L125.24 426.63L123.58 425.26L125.73 425.12Z" fill="#b05a08"/><path d="M134.63 411.28L135.42 413.28L137.58 413.42L135.91 414.79L136.45 416.88L134.63 415.73L132.81 416.88L133.34 414.79L131.68 413.42L133.83 413.28Z" fill="#b05a08"/><path d="M142.73 397.1L143.52 399.11L145.68 399.24L144.01 400.62L144.55 402.71L142.73 401.55L140.91 402.71L141.45 400.62L139.78 399.24L141.94 399.11Z" fill="#b05a08"/><path d="M150.83 394.8L151.63 396.81L153.78 396.94L152.12 398.32L152.65 400.41L150.83 399.25L149.01 400.41L149.55 398.32L147.88 396.94L150.04 396.81Z" fill="#b05a08"/><path d="M158.94 391.21L159.73 393.22L161.88 393.35L160.22 394.73L160.76 396.82L158.94 395.66L157.11 396.82L157.65 394.73L155.99 393.35L158.14 393.22Z" fill="#b05a08"/><path d="M167.04 388.32L167.83 390.33L169.99 390.47L168.32 391.84L168.86 393.93L167.04 392.77L165.22 393.93L165.75 391.84L164.09 390.47L166.24 390.33Z" fill="#b05a08"/><path d="M175.14 392.64L175.93 394.65L178.09 394.79L176.42 396.16L176.96 398.25L175.14 397.09L173.32 398.25L173.86 396.16L172.19 394.79L174.35 394.65Z" fill="#b05a08"/><path d="M183.24 388.81L184.04 390.82L186.19 390.95L184.53 392.33L185.06 394.42L183.24 393.26L181.42 394.42L181.96 392.33L180.29 390.95L182.45 390.82Z" fill="#b05a08"/><path d="M191.34 387.52L192.14 389.53L194.29 389.66L192.63 391.04L193.17 393.13L191.34 391.97L189.52 393.13L190.06 391.04L188.4 389.66L190.55 389.53Z" fill="#b05a08"/><path d="M199.45 387.68L200.24 389.69L202.4 389.82L200.73 391.2L201.27 393.29L199.45 392.13L197.63 393.29L198.16 391.2L196.5 389.82L198.65 389.69Z" fill="#b05a08"/><path d="M207.55 388.49L208.34 390.49L210.5 390.63L208.83 392L209.37 394.09L207.55 392.94L205.73 394.09L206.27 392L204.6 390.63L206.76 390.49Z" fill="#b05a08"/><path d="M215.65 389.22L216.45 391.23L218.6 391.36L216.94 392.74L217.47 394.83L215.65 393.67L213.83 394.83L214.37 392.74L212.7 391.36L214.86 391.23Z" fill="#b05a08"/><path d="M223.75 388.41L224.55 390.41L226.7 390.55L225.04 391.92L225.58 394.01L223.75 392.86L221.93 394.01L222.47 391.92L220.81 390.55L222.96 390.41Z" fill="#b05a08"/><path d="M231.86 392.22L232.65 394.23L234.81 394.36L233.14 395.74L233.68 397.83L231.86 396.67L230.04 397.83L230.57 395.74L228.91 394.36L231.06 394.23Z" fill="#b05a08"/><path d="M239.96 393.07L240.75 395.08L242.91 395.21L241.24 396.59L241.78 398.68L239.96 397.52L238.14 398.68L238.68 396.59L237.01 395.21L239.17 395.08Z" fill="#b05a08"/><path d="M248.06 393.93L248.86 395.94L251.01 396.07L249.35 397.45L249.88 399.54L248.06 398.38L246.24 399.54L246.78 397.45L245.11 396.07L247.27 395.94Z" fill="#b05a08"/><path d="M256.17 393.59L256.96 395.59L259.11 395.73L257.45 397.1L257.99 399.19L256.17 398.04L254.34 399.19L254.88 397.1L253.22 395.73L255.37 395.59Z" fill="#b05a08"/><path d="M264.27 394.36L265.06 396.37L267.22 396.51L265.55 397.88L266.09 399.97L264.27 398.81L262.45 399.97L262.98 397.88L261.32 396.51L263.47 396.37Z" fill="#b05a08"/><path d="M272.37 395.68L273.16 397.69L275.32 397.82L273.65 399.19L274.19 401.29L272.37 400.13L270.55 401.29L271.09 399.19L269.42 397.82L271.58 397.69Z" fill="#b05a08"/><path d="M280.47 396.03L281.27 398.04L283.42 398.17L281.76 399.55L282.29 401.64L280.47 400.48L278.65 401.64L279.19 399.55L277.52 398.17L279.68 398.04Z" fill="#b05a08"/><path d="M288.58 395.94L289.37 397.95L291.52 398.08L289.86 399.46L290.4 401.55L288.58 400.39L286.75 401.55L287.29 399.46L285.63 398.08L287.78 397.95Z" fill="#b05a08"/><path d="M296.68 397.46L297.47 399.47L299.63 399.6L297.96 400.98L298.5 403.07L296.68 401.91L294.86 403.07L295.39 400.98L293.73 399.6L295.88 399.47Z" fill="#b05a08"/><path d="M304.78 398.36L305.57 400.37L307.73 400.51L306.06 401.88L306.6 403.97L304.78 402.81L302.96 403.97L303.5 401.88L301.83 400.51L303.99 400.37Z" fill="#b05a08"/><path d="M312.88 399.19L313.68 401.19L315.83 401.33L314.17 402.7L314.7 404.79L312.88 403.64L311.06 404.79L311.6 402.7L309.93 401.33L312.09 401.19Z" fill="#b05a08"/><path d="M320.99 399.28L321.78 401.29L323.93 401.42L322.27 402.79L322.81 404.89L320.99 403.73L319.16 404.89L319.7 402.79L318.04 401.42L320.19 401.29Z" fill="#b05a08"/><path d="M329.09 401.79L329.88 403.8L332.04 403.94L330.37 405.31L330.91 407.4L329.09 406.24L327.27 407.4L327.8 405.31L326.14 403.94L328.29 403.8Z" fill="#b05a08"/><path d="M337.19 402.08L337.98 404.09L340.14 404.22L338.47 405.6L339.01 407.69L337.19 406.53L335.37 407.69L335.91 405.6L334.24 404.22L336.4 404.09Z" fill="#b05a08"/><path d="M345.29 402.08L346.09 404.09L348.24 404.22L346.58 405.6L347.11 407.69L345.29 406.53L343.47 407.69L344.01 405.6L342.34 404.22L344.5 404.09Z" fill="#b05a08"/><path d="M353.39 402.08L354.19 404.09L356.34 404.22L354.68 405.6L355.22 407.69L353.39 406.53L351.57 407.69L352.11 405.6L350.45 404.22L352.6 404.09Z" fill="#b05a08"/><path d="M361.5 402.08L362.29 404.09L364.45 404.22L362.78 405.6L363.32 407.69L361.5 406.53L359.68 407.69L360.21 405.6L358.55 404.22L360.7 404.09Z" fill="#b05a08"/>
</g>
<path d="M45.5 317.5v5M45.5 477.5v-5M53.6 317.5v1.3M53.6 477.5v-1.5M61.7 317.5v2M61.7 477.5v-2.5M69.81 317.5v1.3M69.81 477.5v-1.5M77.91 317.5v2M77.91 477.5v-2.5M86.01 317.5v1.3M86.01 477.5v-1.5M94.12 317.5v2M94.12 477.5v-2.5M102.22 317.5v1.3M102.22 477.5v-1.5M110.32 317.5v2M110.32 477.5v-2.5M118.42 317.5v1.3M118.42 477.5v-1.5M126.53 317.5v5M126.53 477.5v-5M134.63 317.5v1.3M134.63 477.5v-1.5M142.73 317.5v2M142.73 477.5v-2.5M150.83 317.5v1.3M150.83 477.5v-1.5M158.94 317.5v2M158.94 477.5v-2.5M167.04 317.5v1.3M167.04 477.5v-1.5M175.14 317.5v2M175.14 477.5v-2.5M183.24 317.5v1.3M183.24 477.5v-1.5M191.34 317.5v2M191.34 477.5v-2.5M199.45 317.5v1.3M199.45 477.5v-1.5M207.55 317.5v5M207.55 477.5v-5M215.65 317.5v1.3M215.65 477.5v-1.5M223.75 317.5v2M223.75 477.5v-2.5M231.86 317.5v1.3M231.86 477.5v-1.5M239.96 317.5v2M239.96 477.5v-2.5M248.06 317.5v1.3M248.06 477.5v-1.5M256.17 317.5v2M256.17 477.5v-2.5M264.27 317.5v1.3M264.27 477.5v-1.5M272.37 317.5v2M272.37 477.5v-2.5M280.47 317.5v1.3M280.47 477.5v-1.5M288.58 317.5v5M288.58 477.5v-5M296.68 317.5v1.3M296.68 477.5v-1.5M304.78 317.5v2M304.78 477.5v-2.5M312.88 317.5v1.3M312.88 477.5v-1.5M320.99 317.5v2M320.99 477.5v-2.5M329.09 317.5v1.3M329.09 477.5v-1.5M337.19 317.5v2M337.19 477.5v-2.5M345.29 317.5v1.3M345.29 477.5v-1.5M353.39 317.5v2M353.39 477.5v-2.5M361.5 317.5v1.3M361.5 477.5v-1.5M369.6 317.5v5M369.6 477.5v-5M45.5 477.89h5M370.9 477.89h-5M45.5 458.41h7.6M370.9 458.41h-7.6M45.5 442.49h5M370.9 442.49h-5M45.5 429.04h5M370.9 429.04h-5M45.5 417.38h5M370.9 417.38h-5M45.5 407.1h5M370.9 407.1h-5M45.5 397.9h7.6M370.9 397.9h-7.6M45.5 389.58h5M370.9 389.58h-5M45.5 381.98h5M370.9 381.98h-5M45.5 375h5M370.9 375h-5M45.5 368.53h5M370.9 368.53h-5M45.5 362.51h5M370.9 362.51h-5M45.5 356.87h5M370.9 356.87h-5M45.5 351.58h5M370.9 351.58h-5M45.5 346.59h5M370.9 346.59h-5M45.5 341.87h5M370.9 341.87h-5M45.5 337.39h7.6M370.9 337.39h-7.6M45.5 333.13h5M370.9 333.13h-5M45.5 329.07h5M370.9 329.07h-5M45.5 325.19h5M370.9 325.19h-5M45.5 321.48h5M370.9 321.48h-5" stroke="#000" stroke-width="1" fill="none"/>
<path d="M45.5 317.5H370.5M45.5 17.5V477.5H370.7V17.5H45.5" stroke="#000" stroke-width="1.2" fill="none"/>
<text x="38.4" y="341.19" font-size="12" font-family="'Liberation Sans', sans-serif" text-anchor="end">2</text>
<text x="373.6" y="341.19" font-size="12" font-family="'Liberation Sans', sans-serif">2</text>
<text x="38.4" y="401.7" font-size="12" font-family="'Liberation Sans', sans-serif" text-anchor="end">1</text>
<text x="373.6" y="401.7" font-size="12" font-family="'Liberation Sans', sans-serif">1</text>
<text x="38.4" y="462.21" font-size="12" font-family="'Liberation Sans', sans-serif" text-anchor="end">0.5</text>
<text x="373.6" y="462.21" font-size="12" font-family="'Liberation Sans', sans-serif">0.5</text>
<text x="46.1" y="488.9" font-size="11.3" font-family="'Liberation Sans', sans-serif" text-anchor="middle">0</text>
<text x="127.12" y="488.9" font-size="11.3" font-family="'Liberation Sans', sans-serif" text-anchor="middle">50</text>
<text x="208.15" y="488.9" font-size="11.3" font-family="'Liberation Sans', sans-serif" text-anchor="middle">100</text>
<text x="289.18" y="488.9" font-size="11.3" font-family="'Liberation Sans', sans-serif" text-anchor="middle">150</text>
<text x="370.2" y="488.9" font-size="11.3" font-family="'Liberation Sans', sans-serif" text-anchor="middle">200</text>
<text transform="translate(17.9 428) rotate(-90)" font-size="9" font-family="'Liberation Sans', sans-serif" textLength="62.5" lengthAdjust="spacingAndGlyphs">Ratio to ATLAS</text>
<text x="322.6" y="503.6" font-size="12.4" font-family="'Liberation Sans', sans-serif">Q</text>
<text x="332.4" y="506.5" font-size="9.6" font-family="'Liberation Sans', sans-serif" style="stroke:none" textLength="4" lengthAdjust="spacingAndGlyphs">0</text>
<text x="341.2" y="503.4" font-size="12" font-family="'Liberation Sans', sans-serif" textLength="32" lengthAdjust="spacingAndGlyphs">[GeV]</text>
</svg></body></html>
